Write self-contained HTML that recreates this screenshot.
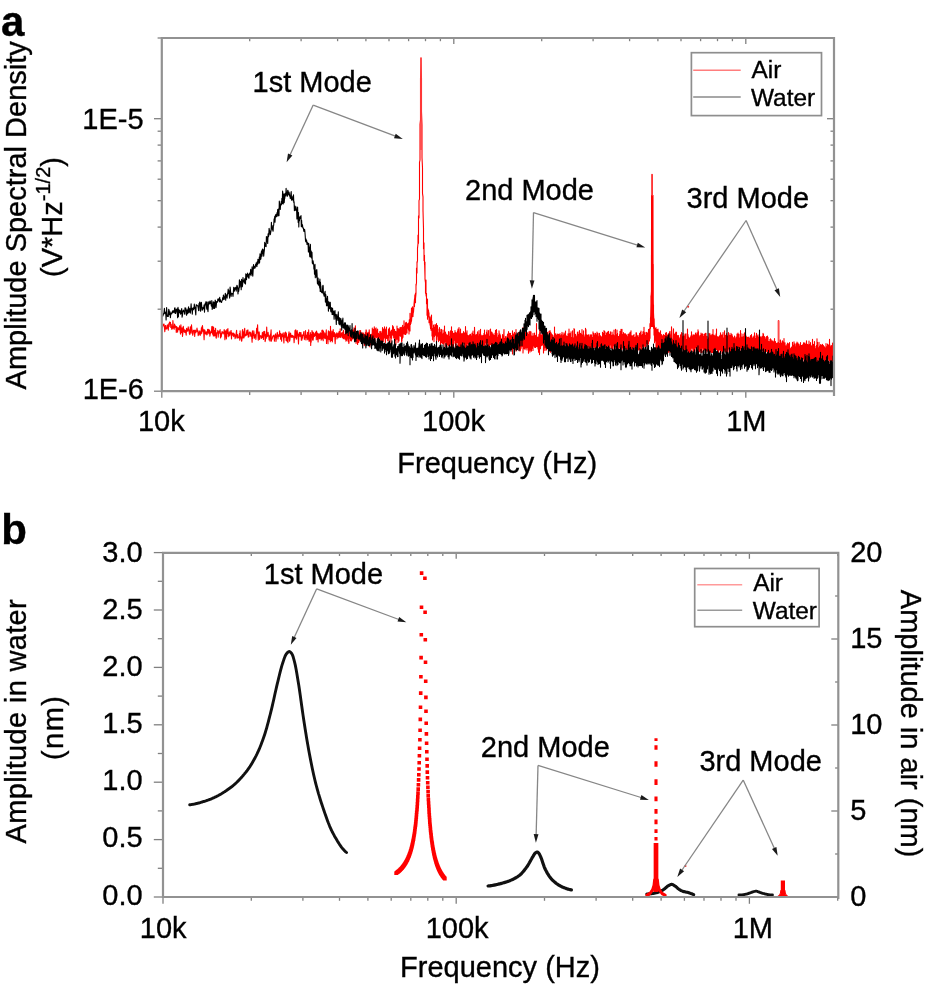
<!DOCTYPE html>
<html lang="en"><head><meta charset="utf-8"><title>Amplitude spectral density and amplitude in air and water</title>
<style>html,body{margin:0;padding:0;background:#fff}svg{display:block;will-change:transform}text{font-family:"Liberation Sans", sans-serif;fill:#000;stroke:#000;stroke-width:.35px}</style>
</head><body>
<svg width="926" height="992" viewBox="0 0 926 992">
<rect width="926" height="992" fill="#fff"/>
<clipPath id="ca"><rect x="161.8" y="38" width="672.2" height="353.2"/></clipPath>
<g clip-path="url(#ca)" fill="none" stroke-linejoin="round" stroke-width="1.1">
<path d="M161.8 326.9L162.2 327.9L162.7 326.1L163.1 324.2L163.5 325.7L164 324L164.4 327.5L164.8 331.7L165.3 325.9L165.7 325.5L166.1 329.1L166.6 328.8L167 328L167.4 324.8L167.8 327.7L168.3 330.1L168.7 323.7L169.1 326.6L169.5 322L170 324L170.4 322.3L170.8 327.5L171.2 324.3L171.7 329.3L172.1 329L172.5 328L172.9 320.5L173.4 327L173.8 328.6L174.2 329.2L174.6 324L175 327.4L175.5 325.9L175.9 326.5L176.3 332.5L176.7 326.6L177.1 329.1L177.6 332.2L178 327.5L178.4 329.1L178.8 329.8L179.2 329.8L179.6 325.7L180 329.9L180.5 334.1L180.9 324.8L181.3 332.6L181.7 330.3L182.1 327.9L182.5 336.5L182.9 332.5L183.3 326.2L183.8 330.4L184.2 332.1L184.6 329.7L185 332.5L185.4 330.2L185.8 332.6L186.2 335.1L186.6 328.4L187 331.2L187.4 329.1L187.8 331.1L188.2 326.9L188.6 328.9L189 330.2L189.4 333.8L189.8 334.6L190.3 326.7L190.7 328.5L191.1 333.2L191.5 324.7L191.9 329.7L192.3 330.9L192.7 335.3L193.1 333.5L193.5 330.3L193.9 330.2L194.3 330.6L194.7 336.4L195.1 330.1L195.5 330.6L195.8 332.8L196.2 331.3L196.6 331L197 328.1L197.4 331.7L197.8 330.4L198.2 335.6L198.6 334L199 331.8L199.4 334.1L199.8 330.9L200.2 335.5L200.6 332.1L201 334L201.4 327.9L201.8 333.3L202.1 326.7L202.5 325.6L202.9 331.3L203.3 329.4L203.7 332.9L204.1 339.7L204.5 329.7L204.9 330.4L205.3 333.2L205.6 334.1L206 332L206.4 331.9L206.8 334.9L207.2 334.4L207.6 329.3L208 332.5L208.3 332.9L208.7 329.4L209.1 333.7L209.5 330.1L209.9 336.1L210.3 333.6L210.6 333.3L211 331.1L211.4 332.7L211.8 326.5L212.2 329.4L212.6 334.3L212.9 326.2L213.3 336L213.7 327.5L214.1 335.7L214.5 330.5L214.8 335.9L215.2 333.8L215.6 328.4L216 337.5L216.3 338.2L216.7 333.3L217.1 332.6L217.5 333L217.8 330.4L218.2 337.2L218.6 331.9L219 333.5L219.3 331.1L219.7 331.7L220.1 329.6L220.5 337.9L220.8 333.3L221.2 337L221.6 333.9L222 331.6L222.3 332.8L222.7 332.1L223.1 334L223.4 332.8L223.8 333L224.2 329.5L224.5 331.4L224.9 339.6L225.3 331.9L225.7 330.7L226 335.3L226.4 338.9L226.8 329.5L227.1 333.6L227.5 332.2L227.9 328.5L228.2 336.8L228.6 334.3L229 334.6L229.3 331.9L229.7 335.9L230.1 332.7L230.4 334L230.8 330.9L231.1 330.5L231.5 339L231.9 332.9L232.2 335.6L232.6 334.5L233 333.2L233.3 333L233.7 336.8L234 333.7L234.4 334.2L234.8 334.8L235.1 338.7L235.5 337.1L235.8 336.1L236.2 333L236.6 330.3L236.9 338L237.3 338.1L237.6 334.5L238 336.7L238.4 337.5L238.7 337.7L239.1 338L239.4 333.5L239.8 340.1L240.1 330.9L240.5 337.9L240.9 336.7L241.2 338L241.6 341.3L241.9 340.1L242.3 331.4L242.6 329.6L243 337.9L243.3 331.8L243.7 335.2L244 338L244.4 329.8L244.7 328.3L245.1 336.1L245.5 335.4L245.8 334.5L246.2 335.4L246.5 332.5L246.9 330.3L247.2 334.8L247.6 332.1L247.9 329.9L248.3 337.1L248.6 335.2L249 336.8L249.3 332.1L249.7 333.2L250 332.1L250.3 332.5L250.7 336.1L251 332.9L251.4 336.7L251.7 336.6L252.1 342.3L252.4 330.9L252.8 338.5L253.1 335.2L253.5 335.5L253.8 330.7L254.2 334L254.5 338.1L254.8 335.3L255.2 335.9L255.5 334.6L255.9 339.5L256.2 335.6L256.6 328.3L256.9 333.3L257.3 329.1L257.6 324.8L257.9 333.9L258.3 340.1L258.6 335.8L259 331.8L259.3 332.6L259.6 339.5L260 336.2L260.3 335.9L260.7 335.6L261 335.9L261.3 338.4L261.7 337.6L262 336.5L262.4 332.3L262.7 337.5L263 333.5L263.4 339.5L263.7 331.6L264 335.4L264.4 335.8L264.7 331.4L265.1 341.6L265.4 340.7L265.7 334.3L266.1 338.4L266.4 337.1L266.7 327.1L267.1 336.7L267.4 335.7L267.7 336.2L268.1 332.3L268.4 335L268.7 335.3L269.1 339.9L269.4 337.1L269.7 335.9L270.1 341.1L270.4 334.1L270.7 334.6L271.1 329.9L271.4 341.2L271.7 339.2L272.1 339.1L272.4 338.2L272.7 336.4L273.1 336.7L273.4 335.2L273.7 335.3L274.1 336.2L274.4 341.1L274.7 337.9L275 335.8L275.4 334.1L275.7 333.9L276 341.4L276.4 337.8L276.7 336.3L277 334.9L277.3 332.3L277.7 335.9L278 339L278.3 334.8L278.7 335.3L279 335.4L279.3 336.5L279.6 330.7L280 335.3L280.3 333.2L280.6 339.1L280.9 333.5L281.3 338.1L281.6 341.3L281.9 335.1L282.2 334.1L282.6 336.8L282.9 336.2L283.2 332.8L283.5 337.7L283.9 343L284.2 335.3L284.5 335.5L284.8 332.7L285.1 337.3L285.5 332L285.8 332.5L286.1 340.5L286.4 333.2L286.8 339.9L287.1 341.4L287.4 337.1L287.7 338.1L288 342.8L288.4 335.6L288.7 334.2L289 331.7L289.3 336.4L289.6 341.3L290 339.5L290.3 333.1L290.6 333.4L290.9 334.6L291.2 337.3L291.6 335.6L291.9 337L292.2 337.3L292.5 335.3L292.8 336.2L293.1 337L293.5 336L293.8 338L294.1 342.7L294.4 338.3L294.7 336.5L295 330.6L295.4 337.6L295.7 329.7L296 331.6L296.3 339.2L296.6 338.7L296.9 335.8L297.2 330.5L297.6 335.1L297.9 334.1L298.2 338.5L298.5 344L298.8 337.1L299.1 333.7L299.4 332.4L299.8 336.2L300.1 335.8L300.4 332.5L300.7 336.8L301 332.5L301.3 340.2L301.6 340L301.9 340.1L302.2 334.8L302.5 338.2L302.8 336L303.1 335.1L303.4 335.3L303.7 332L304 331.5L304.3 339.2L304.6 335.8L304.9 337.2L305.2 339.9L305.5 330.5L305.8 333.7L306.1 337.1L306.4 337.8L306.7 335.2L307 340L307.3 337.2L307.6 332.3L307.8 333.2L308.1 339.3L308.4 338.1L308.7 329.9L309 341.2L309.3 338.6L309.5 341.2L309.8 335.2L310.1 335.5L310.4 332.6L310.7 345.4L310.9 335.9L311.2 342.1L311.5 334.2L311.8 337.1L312 330.6L312.3 335.2L312.6 340L312.9 332.1L313.1 340.3L313.4 337.7L313.7 332.9L313.9 334.8L314.2 334.9L314.5 336.4L314.7 334.7L315 333.6L315.3 335.5L315.5 332.9L315.8 332L316.1 336.4L316.3 339.7L316.6 331.1L316.8 336.6L317.1 334.3L317.4 333.1L317.6 339.6L317.9 334.7L318.1 342L318.4 333.8L318.7 338L318.9 335.8L319.2 333.9L319.4 338.7L319.7 336.1L319.9 338.8L320.2 336.4L320.4 332.7L320.7 336.2L320.9 336.8L321.2 340.1L321.4 333.3L321.7 336.5L321.9 330.4L322.2 339L322.4 332.7L322.7 330.1L322.9 336.4L323.2 340.7L323.4 331.1L323.7 332.7L323.9 333.9L324.1 332.5L324.4 338L324.6 333.7L324.9 334L325.1 338.8L325.4 333.9L325.6 338.2L325.8 333.1L326.1 332.2L326.3 329.9L326.5 343.5L326.8 335.5L327 337.6L327.3 336.6L327.5 337.3L327.7 336.9L328 343.7L328.2 332.8L328.4 330.9L328.7 332.9L328.9 331.8L329.1 339.4L329.4 339.7L329.6 333.1L329.8 331.5L330.1 335.4L330.3 341.8L330.5 326.2L330.7 338.6L331 332.7L331.2 340.5L331.4 332.7L331.7 335.6L331.9 331.1L332.1 333.1L332.3 341.9L332.6 339.7L332.8 335.2L333 333.4L333.2 329.6L333.5 335.2L333.7 336.6L333.9 336.4L334.1 336.3L334.4 332.5L334.6 336.5L334.8 336.6L335 341.5L335.2 343.7L335.5 336.2L335.7 333.8L335.9 336.5L336.1 334.4L336.3 333.9L336.6 336.5L336.8 332.8L337 339L337.2 336.3L337.4 337.6L337.6 336L337.9 334L338.1 333.1L338.3 335.8L338.5 334.6L338.7 337.6L338.9 336.7L339.1 331.5L339.4 337L339.6 331.6L339.8 334.4L340 335.6L340.2 328.8L340.4 337.1L340.6 337.3L340.8 336.1L341.1 335.1L341.3 335.3L341.5 333L341.7 335.7L341.9 334.6L342.1 337.1L342.3 332.1L342.5 337.6L342.7 337.3L342.9 336.2L343.1 335L343.3 338.8L343.6 330.3L343.8 338.5L344 337.6L344.2 337.8L344.4 338.2L344.6 334.2L344.8 335.7L345 339.2L345.2 338.4L345.4 337.5L345.6 330.9L345.8 338.8L346 341.2L346.2 340.6L346.4 337.6L346.6 330.7L346.8 340.3L347 336.1L347.2 326.9L347.4 338.2L347.6 330.9L347.8 331.7L348 334.2L348.2 341.6L348.4 335.3L348.6 337.7L348.8 343.5L349 342.9L349.2 336.3L349.4 335.8L349.6 331.8L349.8 334L350 338.3L350.2 338.2L350.4 337.1L350.6 340.6L350.8 333.7L351 336.5L351.2 339.5L351.4 339L351.5 340.9L351.7 338.2L351.9 335.5L352.1 338.1L352.3 332.7L352.5 330.2L352.7 339L352.9 336.5L353.1 337.9L353.3 330L353.5 335.2L353.7 334.3L353.9 333.3L354 327.8L354.2 335.3L354.4 340.2L354.6 338.2L354.8 334.3L355 336.6L355.2 339.6L355.4 325.7L355.6 336.2L355.8 338.8L355.9 339.3L356.1 343.4L356.3 341.1L356.5 337.9L356.7 337.8L356.9 339.8L357.1 334.5L357.2 336.5L357.4 340.2L357.6 344.4L357.8 336L358 336.4L358.2 337.4L358.4 342L358.5 336.5L358.7 342.5L358.9 332.8L359.1 335.9L359.3 335.8L359.5 339.8L359.6 340.8L359.8 330.6L360 332.9L360.2 337.9L360.4 334L360.6 330.5L360.7 340.8L360.9 338.6L361.1 338.6L361.3 334.7L361.5 340.7L361.6 335.6L361.8 341L362 332.9L362.2 333.1L362.4 337.4L362.5 333.7L362.7 339.3L362.9 337.6L363.1 332.8L363.3 336.8L363.4 335.1L363.6 340.2L363.8 334L364 334.8L364.2 341.4L364.3 345.6L364.5 344.6L364.7 336.8L364.9 337.4L365 342.7L365.2 336L365.4 332.6L365.6 337L365.7 338.3L365.9 333.1L366.1 329.8L366.3 330.7L366.4 339.2L366.6 333.4L366.8 335.9L367 337.4L367.1 339L367.3 335.1L367.5 338.5L367.7 332.8L367.8 335L368 332.3L368.2 341.1L368.4 336.3L368.5 333.4L368.7 335L368.9 335.5L369 339.3L369.2 329.9L369.4 332.2L369.6 334.9L369.7 346.8L369.9 340.3L370.1 336L370.2 339.3L370.4 344.8L370.6 335.4L370.8 334.9L370.9 341.4L371.1 338.4L371.3 339.1L371.4 334.3L371.6 344.3L371.8 343.4L371.9 338.7L372.1 339.2L372.3 328L372.4 339L372.6 335.5L372.8 338.1L372.9 339.1L373.1 334.9L373.3 329.3L373.4 337.8L373.6 333.2L373.8 334.9L373.9 333.8L374.1 334.9L374.3 326.7L374.4 341.3L374.6 337.3L374.8 340.9L374.9 344.5L375.1 336.3L375.3 328.8L375.4 332.5L375.6 331.2L375.8 334.1L375.9 336.5L376.1 327.9L376.3 337.6L376.4 329.9L376.6 337.4L377 335.7V335.9V333.9L377.4 333.6L377.6 329.1L377.7 336L377.9 343.8L378.1 344.4L378.2 341.6L378.4 339.1L378.5 333.3L378.7 342.1L378.9 335.8L379 335.8L379.2 334.8L379.3 336.4L379.5 334.2L379.7 335.7L379.8 331.5L380 334.4L380.2 345.6L380.3 335.7L380.5 335L380.6 338.2L380.8 338.9L380.9 331.3L381.1 335.1L381.5 339.8V336.4V342.5L381.9 333L382.1 336.2L382.2 333.7L382.4 342.2L382.5 327.6L382.7 333L382.9 333.6L383 338.6L383.2 338.4L383.3 341.7L383.5 329.1L383.6 338.9L383.8 334.5L384 332.9L384.1 338L384.5 331.8V326.9V334.1V329.3L384.9 332.9L385 337.2L385.2 337L385.4 342.4L385.5 334.8L385.7 329.1L385.8 332.4L386 331.7L386.1 330.4L386.5 337.4V327.1V338.5L386.9 335L387.1 337L387.2 335.9L387.4 338.1L387.5 335.6L387.7 340.7L387.8 337.2L388 337L388.1 337.1L388.5 329.1V336.2L388.9 329.4L389 342.2L389.2 335.7L389.3 330L389.5 327.8L389.6 333.9L389.8 334.7L389.9 332L390.1 335.5L390.5 332.3V337.4V331.9V334.8L390.9 339.2L391 346L391.2 330.6L391.3 332.9L391.5 331.3L391.6 338.3L392 329.9V334.7V330.5L392.4 330.6L392.5 332.7L392.6 325.6L393 328.4V335.2V333.8L393.4 326.9L393.5 332.5L393.7 338L393.8 336.9L394 334.1L394.1 330.5L394.5 337.1V329.2V330.8L394.9 340.5L395 335.2L395.2 339.2L395.5 332V338.2V331.4V333.3L395.9 344.8L396 337.3L396.2 331.7L396.3 333.5L396.5 335.3L396.6 339.1L397 331.6V326.1V333.7L397.4 334.1L397.5 339.3L397.6 334.9L398 337V328.6V342.5L398.4 336.6L398.5 334.3L398.7 333.8L399 340.9V329V335L399.4 336.1L399.5 330.9L399.7 334.1L400 331.5V333.2V327.5L400.4 332.4L400.5 336.3L400.7 328.1L401 331.2V335.1V327.4V332.9L401.4 327.3L401.5 336.9L401.6 342L402 340.7V330.7V332L402.4 331.9L402.5 338.2L402.6 325.4L403 335.8V330.9V337.2V331.7L403.3 327.8L403.5 331.9L403.6 333.9L404 330.7V332.6V320.7L404.5 334.1V330L404.9 334.2L405 327.5L405.1 326.2L405.5 328.4V334.4V322.8V334.1L406 325.9V323.7V334V327.8L406.4 322.3L406.5 326.3L406.6 331.9L407 332.9V325.5V330.3L407.5 324V328.3V323.9L407.9 323.9L408 326.2L408.1 325.8L408.5 323V330V325.7L409 328.5V326.6V333.9L409.3 319.8L409.5 326.8L409.6 321.5L410 330.9V313.3V317.3L410.5 324.3V324.5V319.9L411 321.9V318.7V323.3L411.5 308.1V321.2L411.9 315.4L412 311.9L412.1 317L412.5 310.7V306.7V313L413 314.7V316.4V310.5V315.2L413.5 309.8V308.6V312.2L414 305.1V304.1V304.3L414.5 298.9V306.5V301.9L414.9 294.9L415 299.1L415.1 298L415.5 293V302.7V298.7L416 293.5V284.2V286.1L416.5 282.6V268.1L417 273V261.7V263.4L417.5 260.7V248.4L418 243.6V235V235.9L418.5 243.3V215.7L419 217.9V200.7L419.5 199.1V162.3L420 160V124.3L420.5 119.9V78.3L421 63.5V57.7V61.4L421.5 78.6V111.5L422 125V157.8L422.5 167.7V193.3L423 196.9V211.4V210.2L423.5 229.1V227.8V248.4L424 249.4V242.8V260.6L424.5 255.3V264.4V260.5L425 277.2V262.1V279.1L425.5 283V293.2L426 280V295.2L426.5 297.1V293.3V303.7L427 303V299.4V315.3L427.5 299.1V319.2V312.3L428 310.6V308.8V311.1V310.3L428.5 317V310.1L429 316V312.7V322.8L429.5 320.2V321.4V320.3L430 320V324.9V316.9L430.5 328.5V319.7V320.8L431 325V321.3V330.2V321.6L431.5 315.1V326.3L432 331.6V321.1V336L432.5 329.5V328.3V340L433 334.9V329.8V332.4L433.5 326.9V325.1V330.4V330.2L434 331.1V341.6V327.1V330.6L434.5 330.6V336.4V329.5L435 328.1V324.5V334.8V332.6L435.5 327.9V335.3L436 330.3V332V324.9V328L436.5 341V323.5V332.1L437 330.2V334.1V333.9L437.5 325.6V335.7L438 337.7V332.6V339.3L438.5 340.5V341.6V334.5L439 339.2V329.1V333.1L439.5 333.9V327.6V340L440 340.5V332.2L440.5 338V335V344.4V336.2L441 329.4V332.4V331L441.5 342.7V329.6V342.6L442 335.1V333.7V338.2L442.5 339.9V343.5L443 340.2V330V338.7L443.5 335.5V333V344.2L444 340.5V338.5V342.5L444.5 339.1V326.1V333.1L445 338.6V332.5V347.3L445.5 335.7V332.1V339.9L446 334.6V341.7V333.7V338.9L446.5 341.7V335.1V351.4L447 334.8V344.7V337.6L447.5 341.6V344.2V335.5L448 335.8V345V340.4L448.5 343.4V345.6V331.5L449 333V331.8V346V344.4L449.5 341.3V346.7V337.7L450 339.1V336.2V346.3L450.5 330.7V340V339.7L451 342.8V331.3V344.1L451.5 336V341.8V326.7V335.3L452 340V346.3V332.3L452.5 345.8V347.5V331.4L453 343.2V351.8V342.5V345.1L453.5 341.7V345.4V333.3V338.1L454 340.5V343.3V335.6L454.5 333.1V339.5V333V333.2L455 336.9V330.5V340.1L455.5 341.2V348.8V332.2V343.7L456 338.3V347.5V333.9L456.5 333.1V341V332.9L457 334.7V342.4L457.5 342.2V331V336.7L458 329.3V347V329.1L458.5 352V334.2V344.2L459 340.3V342.6V327.5L459.5 353.1V335.3V346.6L460 347.2V333.9V338.8L460.5 329.1V340.1V338.9L461 339.2V348.9V345.5L461.5 336V344.1V333.8V338.4L462 333.4V347.6V340.8L462.5 335.5V333.9V351.1L463 342.1V336.4V343.7L463.5 341.2V342.7V331.6L464 337.7V333V340.4L464.5 342V333.1V343.5L465 348.1V332.6L465.5 347.1V326.6V352.7V347.5L466 335V340.8V332.8L466.5 336.7V345.7V340.4L467 351.3V330.8V346.4L467.5 335.5V342.6V335V338.3L468 337.5V343.7V337.2L468.5 335.7V352.9L469 344.1V335.7L469.5 335.2V343.7V339.1L470 334.2V348.8V344L470.5 347.3V353.2V334.2L471 345.8V348.4V342.2V346.3L471.5 336.9V342.2V335.8V339.4L472 340.9V333.1V350V345.9L472.5 343.8V338.4V342.2L473 331.8V354.7V331V342L473.5 339.7V334.3V347.5L474 339.2V338V348L474.5 335.7V344.6V327.3L475 340.2V348V334.7L475.5 335V348V341.9L476 335.9V346.4V340.5L476.5 339.7V350V334.6L477 337.9V344V337V340.4L477.5 331.9V344.3V342.2L478 346.5V351V338.6L478.5 344V336V339.5L479 330.5V339.5V332.1L479.5 338.6V343.6V334.3L480 339.3V347V336.9V345.8L480.5 338.5V345.7V329.3V336.2L481 335.3V334.9V341.9L481.5 335.9V348.6L482 342V335.8V344.8L482.5 336.3V346V341.4L483 335.3V351.1V337.9L483.5 337.7V350.5L484 341.5V347.5V333.4V339.9L484.5 340.1V330V344.8V338.6L485 338.3V342.5V334.3V335.9L485.5 341.9V336.4V340.2L486 346.3V335.3V347.9V338.3L486.5 344.3V332.1V338.9L487 338V330.1V342.9V337.3L487.5 338.5V333.8V340.5L488 343.4V335.7V342.7L488.5 330.6V346.6V345.6L489 342.2V346.6V340.1L489.5 347.6V336.1V339.2L490 344.4V329.8L490.5 340.1V329V343.9L491 337.4V344.8V331.6V344.5L491.5 336.1V351.5V337.2L492 339.3V349V332.2L492.5 346.3V336.4V339.8L493 333.9V333.7V351.7V341L493.5 337.5V349.4V334.7V342.4L494 347.3V336.9V341.3L494.5 335.3V346.2L495 344.1V333V345.7L495.5 338V330.2V345.6L496 337.1V339.2V333.9V338.9L496.5 342.5V329.5V344.3V344L497 340.3V333.2V349.6V341.7L497.5 347.5V337L498 338.9V351.6V342.5L498.5 336.7V335V346.6V337.9L499 337.7V343.5V330.8L499.5 338.6V334.8V343.6L500 339.8V334.1V342.5V336L500.5 341V348.3V335.5L501 345.7V340.8V346.5V344.8L501.5 344.2V341.8V345.5L502 338.3V349.2V339.6L502.5 350.6V334.6V351.2L503 341.8V335.9V349.5L503.5 337.4V343.7V335.8V339.5L504 329.5V347.9L504.5 342.1V347.6V338.3V339.6L505 340.5V346.2V340L505.5 339.4V342.4V336.5V338.1L506 340.2V337.8V351.4L506.5 342.4V340.4V347.6V340.7L507 351V336V339.2L507.5 340.5V346.9V334.1L508 341.5V337.2L508.5 343.4V348.1V331.5V336.2L509 340.1V335.8V344.2V342.6L509.5 339.6V333.3V345.6L510 346.7V335.6V348.3V337.3L510.5 335.1V333.2V341V335L511 345.3V337.6V339.2L511.5 341.1V349.3V335.5V340.9L512 344.3V349.7V338.3V340.4L512.5 334.7V353.9V330.8V337.6L513 341.4V334.8V342.5V340.1L513.5 336.6V344.7V334.2V337.1L514 344V333.1V344.3V335.5L514.5 347.2V332.4V345.6L515 349.1V338V340.9L515.5 342.9V333.5V347.3V342.6L516 337.8V329.5V351.1L516.5 341.6V335.9V342.8V338.2L517 338.7V348.9V343.2L517.5 347.9V349.8V334.3L518 339.3V347.9V337.4L518.5 335.2V332.6V341.5V337.8L519 336.1V334.3V349.9V339.2L519.5 335.4V349.3V346L520 342.6V334.9V351V337.4L520.5 330.3V350.2V340.9L521 343.8V348.6V339.5V341.3L521.5 341.1V346.8V334.3V345.5L522 340.5V337.3V345.7L522.5 338.3V333.4V346.5L523 344.3V327.5V352.9L523.5 338.5V347.2V336.2L524 348.5V336.5L524.5 337.6V346.5V334.8V343.9L525 343.7V343.2V349.6L525.5 331.9V347.1V332L526 339.2V333.9V347.9V339.8L526.5 337.6V341V334.2L527 339.7V349.9V333.2L527.5 334.2V332.9V344.5V338L528 341.4V347.7V336.1L528.5 335.6V334.3V353.3V345.6L529 342.2V350.3V331.9L529.5 342.8V338.3V345.2V343L530 344.3V331.3V351.9V345.9L530.5 334.3V345.7V340.4L531 331.9V350.1V335.3L531.5 336V351.1V339L532 346.1V336.7V348V344.6L532.5 348.5V336V340L533 336.3V333.4V350.4V346.7L533.5 338.6V342.4V335.9V339.5L534 336V345.9V341.7L534.5 340.2V347.2V333L535 339.2V338.6V344.8V341.9L535.5 335.5V347.4V346.4L536 340V337.2V342V341.2L536.5 338.4V323.6V346.5V342.4L537 339.2V336.7V346.7L537.5 341V345.6V339.9V345L538 342.2V337.4V349V348.1L538.5 346.3V339.2V352.3V340.3L539 334.4V343V334.2V339.5L539.5 334.2V354.6V336.9L540 324.7V345.7V342.1L540.5 344.2V334.5V348.8V347.3L541 344.7V335.4V343.6L541.5 339.2V345.2V339V339.8L542 342.5V334V345.4V343.1L542.5 333.2V344.6V340L543 342.9V337.5V343.9V341.3L543.5 338.9V336V352.9L544 339.7V328.9V347.7L544.5 339.9V341.9V334.7L545 340.1V350.5V349L545.5 346.3V337.4L546 331.1V345.2L546.5 341.6V350V335.4V343.1L547 345.6V334.3L547.5 336.2V343.9V332.2V341.3L548 338.4V345.6V338.9L548.5 346.5V341.3V342.9L549 345.3V331.3V347.5V341.7L549.5 335.6V351.1V333.7V339.3L550 350.2V330.5V331L550.5 343.2V332.1V352.3V340.3L551 346.4V332.7V350.8V339.5L551.5 338.3V342.8V333.8V341.5L552 346.5V336V346.2L552.5 343.3V334.8V344.5V340.6L553 337.3V346.7V341.8L553.5 337.6V348.8V341L554 343V352.6V335.5V347.3L554.5 339.2V327V349.2L555 341V346.2V334.9V342.9L555.5 340.3V333.8V349.5L556 334V345L556.5 338.1V335.7V346.4V341.7L557 345.1V335.3V339.2L557.5 343.1V346.3V334.1L558 342.3V351.2V337.1V337.2L558.5 334.2V353.5V346.9L559 336.4V334.6V348.1V338L559.5 348.4V335.7L560 343.6V351.5V333.6L560.5 343.6V335.6V356V344.9L561 344.6V336.1V340.2L561.5 336.5V334.5V346.1V339.6L562 344.4V352V332.4L562.5 337.5V345.7V336.3V338.9L563 337.2V350.6V336.1L563.5 344.1V334.9V346.8V337.5L564 341.8V332.8V348.8V333.3L564.5 334.8V348.6V338.5L565 347.6V333.9V340.2L565.5 342.9V343.8V331.1V336.7L566 338.2V335.4V343.6L566.5 340.2V336.4V350.1V348.3L567 337.4V350.7V340.4L567.5 347.3V336.2V346.3L568 343.5V349.5V333.8V346.5L568.5 339V337.5V346.1L569 338.2V348.6V329.1V340.6L569.5 344.1V336.7V353.8L570 345.1V333.5V345.4L570.5 339.3V335V346.6V338.3L571 346.2V331.8V347.8V344.8L571.5 339.3V338.2V345.8V343.9L572 342.8V337.4V349.3V340.8L572.5 343.8V330.7V347V336.7L573 340.4V349.6V338.5V344.6L573.5 342V343.1V337.8L574 344.8V328.6V353.4L574.5 329.2V348.6V345.1L575 336V335V346.7L575.5 342.9V334.2V345.8V338L576 345.9V335.9V345.7L576.5 351.2V337.4L577 338.1V347.7V339.1L577.5 332.1V345.3V333.4L578 340.9V334.4V350.8V344.1L578.5 342V346.4V335.2V343.5L579 335.5V349.8V332.7L579.5 330.6V344.1V339.9L580 337.4V334.5V350.7L580.5 336.4V333.4V346V336L581 338.5V345.7V334.8L581.5 334V347.8L582 329.5V352V341.7L582.5 340.4V344.4V338.2L583 340.7V348.6V334.9V343.7L583.5 341.2V350.8V330.9V343.4L584 336.4V334.9V351.4V344.3L584.5 346.8V347.6V336.7V338.4L585 342.9V336.9V351L585.5 341V356.2V328.2V350.3L586 334.9V350.2V329.5V341.8L586.5 336V346.5V335L587 334.9V347.6V338.1L587.5 351.4V335.3V341.6L588 339.9V336.2V352.9V340.2L588.5 334.9V346V341.5L589 340.2V345.6V334.8V344.9L589.5 343.4V348.7V338.5V342L590 336.8V350.5V338.1L590.5 343.3V349.1V334.8V341L591 337.4V349.1V344.4L591.5 345.7V353.5V334.7V346.9L592 341.7V353V337.3V343.6L592.5 341.3V349.5L593 343.8V331.9V341.5L593.5 344.4V347.3V335.7V346L594 346.8V333.2V340.7L594.5 343.5V334.7V347V339.9L595 348.4V334.7V341.2L595.5 341.1V348.1V333.4L596 338.6V348.6V335.1V341.1L596.5 346.2V334.9V347.6V342.7L597 336.6V348.1V332.1V337.9L597.5 336.3V348.7V340.4L598 338.2V349.4V333.2V339.9L598.5 346.1V339.3V342.2L599 341.2V336.5V343.9L599.5 333.3V351.6V336.5L600 341V336.5V352.5V341.8L600.5 335.9V346.7V336.4L601 340.8V337.6V351.4V343.3L601.5 340.4V347.3V336.8V338.2L602 343.9V346.5V337.2V341.8L602.5 345.8V332.2V349L603 335.5V333.2V345.8V341.5L603.5 339.7V350.2V336.4L604 337.3V350.5V330.6V338.5L604.5 343.5V349V331.3V340.6L605 346.7V331.7V349.7L605.5 339.8V335.2V343V337.8L606 340.2V347.5V343.9L606.5 349.8V333.1V343.1L607 345.1V335.6V346.3V338.8L607.5 332V345.7V339.7L608 344.3V337V349.4V339.9L608.5 339.9V331.2V344.3V337.1L609 345.1V334.6V350.5V341.4L609.5 343.4V347.3V334.2V344.4L610 344.8V336.2V336.8L610.5 331.9V344.9V342.2L611 337.1V335.8V348.3V341L611.5 340.2V335.2V348.2V342.2L612 344.7V346.2V332L612.5 340.6V352.6V336.4V339.9L613 356.1V335.1V344.1L613.5 340.2V334.8V342.2L614 336.5V345.8V330.1V338.8L614.5 342.3V350.5V335.6V340.5L615 343.2V335.9V346.8L615.5 345.8V329.3V335.3L616 339.2V337.5V351.2V337.6L616.5 346.2V349.4V334.5V345.9L617 351.3V330.1V342.5L617.5 341.6V353.5V333.2V344.4L618 336.3V346.1V337.9L618.5 336.6V349.7V337.5L619 338.6V352.3V341.5L619.5 337V346.8V334.5V339.7L620 347.1V331.2V338.1L620.5 337.2V352.2V332.7V333.9L621 344.3V347V329.3V343.2L621.5 342.8V335.5V349.7V343.8L622 342.8V347.7V329.3V340.4L622.5 340.7V344.8V334.2V344.7L623 338.6V335.9V349.5V343.8L623.5 348.2V332.5V348.8V334.6L624 346.8V349.7V333.4V341.5L624.5 336.2V346.5V339.5L625 341.2V351.5V334V351.4L625.5 347.3V333.8L626 337.2V334.3V347.9L626.5 343.6V335.4V348.3L627 345.4V349.4V337.5L627.5 344.1V350.2V336.6L628 349.3V334.4V353.6L628.5 340.9V336V346.4V339.6L629 347.8V333.7V348.7L629.5 347.9V335.3V338L630 333.8V332.4V352V340.2L630.5 342V338.2V348.5L631 345.2V330.8V346.1V337.1L631.5 339.8V349.3V335.6L632 338.3V338V352.6L632.5 336.4V335.9V348.3V342.2L633 346.7V337.2V347.7V337.3L633.5 341.2V335.3V344.4V342.1L634 338.1V334.5V346L634.5 347.8V337.3V344.8L635 342.9V337.3V352.3L635.5 338.5V336.7V350.1V346.3L636 341.2V332.8V352.5V348L636.5 340.5V348.1V332.7V338.8L637 335.5V335V351.1V341.8L637.5 336.6V353.5V335.8V340.2L638 338.9V349.8V337.1V343.5L638.5 345.1V349V337.9V346L639 343.6V335.3V350.1V343.4L639.5 348.2V349.3V333.4V342L640 338.6V347.1V335.4V343.2L640.5 345.7V346.9V332.4V345L641 339.6V351.3V331.1V341.7L641.5 345.6V335.1V349.7L642 344.8V352.5V337V339.2L642.5 334.4V346.3V340L643 334.5V331.8V346.2V344L643.5 341.3V331.6V347.5V340.7L644 338.6V346.4V327.3V344.5L644.5 332.6V345.1V335.1L645 335.9V345V335.2V342.2L645.5 349.1V335.8V340L646 340.9V346.4V332.4L646.5 340.2V343.3V335L647 340.4V332.3V343.5V343L647.5 339.2V344.2V333.3V338.4L648 343.8V346.1V333.7L648.5 340.5V343.7V329.6V332.6L649 329.7V329.2V341.5L649.5 328.9V340.5V337.7L650 333.5V338.3V323.6L650.5 328.2V317.6V321.1L651 315.2V321V295.7V298.9L651.5 291.4V294.3V255.6L652 239.5V240.1V174.3V199.6L652.5 196.3V266.8L653 271V264.4V304.7V298.7L653.5 314.6V304.9V328.2V323.2L654 321.5V335.1V318.8V333.6L654.5 325.8V342.7V328.3L655 337.3V328.3V337.9V332.9L655.5 337.4V340.9V328.9V337.7L656 336V327.6V347.1V333.7L656.5 342V331.3V349.1V347.7L657 337.2V329.6V350.3V339.3L657.5 330.2V348.1V337.7L658 338.4V329.1V345.1V343.9L658.5 337.3V349.2V332.1V338.4L659 339.7V333.7V351.6V343.5L659.5 332.9V349.1V335.8L660 344V350V334V339.5L660.5 345V330.8V347.6V332.5L661 346.9V347.2V339.5L661.5 344.9V350.2V334.6V344.3L662 336.5V345.3V335.8V345.2L662.5 339.9V335.9V348.8V340.2L663 345.4V337.2V360.4V346.8L663.5 334.6V348.9V344L664 344.9V335.5V348.7V340.6L664.5 348.3V335.4V352.8V341.5L665 340.6V346.9V336.1V337.8L665.5 344.5V333.1V346.6V336.5L666 339.9V336V346V339.7L666.5 344.7V332.6V346.3V339.8L667 344.6V347.2V335.2V346.7L667.5 343.6V350.7V338.2L668 340.8V352.6V334.2V342.6L668.5 346.8V335.5V349.1V338.6L669 345.4V333.4V351.9V348.8L669.5 347.7V350.7V331.7V340.9L670 343.7V349.1V331.3L670.5 338.7V352.1V337.7V345.4L671 345V334.9V350.6L671.5 345.8V353.1V326.9L672 336.4V350.4V349.1L672.5 341.9V348.1V339.1V340.8L673 355.6V340V341.3L673.5 344.6V328.9V346.8V342.8L674 350.5V333.6V341.5L674.5 346.6V337.1V348.5V341.6L675 342.6V347.3V334.2V347.1L675.5 342V332.8V346.6V338.9L676 349.8V332.1V350.7L676.5 341.8V332.3V349.7V340L677 348.2V338.5V344.6L677.5 339.2V349.5V335.6V341.5L678 347.7V340.5V344.5L678.5 335.6V345.8V335.5V337.8L679 350.4V338.5V350.3L679.5 345.9V339V353V347.9L680 345.4V349.4V337.4V347.4L680.5 340.5V334.8V346.3V343.2L681 343.4V350.8V339.7V343.2L681.5 339V349.5V332.5V345.4L682 336.7V348.9V348.8L682.5 345.7V336.5V348.8V341.4L683 343.2V333.2V352.7L683.5 345.3V351.5V335.8V339.6L684 338.6V336.5V346.6V345.9L684.5 342V351.7V335.9L685 340.5V334V353V344.8L685.5 340.5V336.8V350.6V347.2L686 341.2V333.7V348V341.8L686.5 342.5V350V339.5V346.7L687 344.1V350.3V339.2V341.7L687.5 338.8V329.1V348.9L688 335.3V334.5V357.1V338.8L688.5 341.2V336.9V346.6V343L689 343.8V351.9V338.7V347.9L689.5 342V353.3V338V341.9L690 343.8V337.9V350.4V342.7L690.5 351V336.8V340.7L691 341.5V335.6V349.9V348.7L691.5 335.7V331.7V347.4V335.4L692 345.1V348.2V338.9V344L692.5 341.6V336V348.2V346.6L693 339.8V334.9V352.1V341.4L693.5 340.5V335.2V349.6V336.2L694 335.3V351.5V334.7L694.5 346.2V351V337.6V339.8L695 335V351.1V348.7L695.5 342.3V333V347.7V343.4L696 337.6V346.9V335.4V341.3L696.5 340.3V334.5V346.2V346.2L697 341V349.3V332.8V342.5L697.5 341.3V352.4V338.7V343L698 344V329.8V350.8V337.2L698.5 342.8V331.5V356.5V338.7L699 344V337.7V348V338.6L699.5 344.4V351.7V336.6V344.4L700 340.7V335.2V350.7V344.6L700.5 346.4V336.4V349.5V348.1L701 340.1V352.7V333V338.1L701.5 338.7V349.9V337.2V343.2L702 346.6V334V352.4V340.3L702.5 336.6V345.5V333.9V339.5L703 345.2V336.4V348.1V346.3L703.5 347.6V353.6V341.4V344.1L704 338.1V334.3V350.3V343.2L704.5 334V349.8V344.6L705 338.7V349.3V341.4L705.5 345.1V348.2V333.4V338.5L706 340.8V333.2V352.5V341.4L706.5 348.3V338.5V345.9L707 343.6V336.4V350.6V346.5L707.5 351.1V339.2V339.9L708 341.2V340.4V351.3V346.1L708.5 344.5V337.7V346.2V342.6L709 336V333.4V353.4V345.8L709.5 339.9V337.4V353.2V337.8L710 336.9V352.2V333.8V350.3L710.5 344.6V337.1V351.8V337.7L711 343.6V347.2V335.5L711.5 350.8V352.4V342.1V348.3L712 334.2V346.4V339.1L712.5 341.9V352.6V337.9V350.4L713 343.4V329.6V351.9V335.8L713.5 345.8V335.4V354.2V349L714 345.2V335V350.1V345.2L714.5 343.5V336.7V346.5V343.2L715 345.3V335.8V348.8V347.7L715.5 346.9V336.6V351.2V336.8L716 347.5V349.4V333.7V340.3L716.5 342.1V347.5V329V342L717 344.3V336.3V349.6V342.9L717.5 338.7V352.1V336.9L718 345.8V350.2V337.8V345L718.5 348V352.8V337V337.5L719 346.5V336.7V349.7V349L719.5 345V349.1V335.9V341.4L720 341.7V339.3V350.2L720.5 332.7V348.4V339.8L721 351.2V353.5V337.4L721.5 348.8V335.3V340.1L722 350.8V334.9V341.8L722.5 351.9V338.4V344.7L723 346.8V332.6V351V342.3L723.5 349.2V355V337.7V342.2L724 350.1V338.3V340.3L724.5 340.4V330.8V346.1L725 338.1V336.5V351.2V343.7L725.5 341.7V351.9V335.2V340.8L726 346.2V338.6V347.8L726.5 341V333.6V353.2V341.7L727 346V350V336.2V347.4L727.5 344.5V352.6V336.1L728 351.9V335.5L728.5 340.2V348.3V332.6V338.4L729 340.2V333.5V349V335.4L729.5 351V337.2V341.8L730 338.9V335.4V349.2L730.5 352.7V339.2V346.2L731 348.4V353V333.3V349.5L731.5 346.2V346.6V334.7V344L732 339.5V334.5V356.1V344.4L732.5 345V336.1V350V344.5L733 347.1V337.2V347.8L733.5 337.7V350.4V348L734 346.3V338.4V349L734.5 339.5V348.1V336V343.3L735 345.6V339.1V348.9V339.5L735.5 347.8V350.7V338.6V338.8L736 341.9V337.1V350.8V337.2L736.5 347.7V350.1V338.8V349L737 337.9V349.3V334.1V340.9L737.5 341V352.2V335.6V342.1L738 345.8V333.1V340.6L738.5 339.6V347.8V336.6V344.3L739 345.9V334.3V350.4V341.1L739.5 347.3V354.9V337.8V342.6L740 340.9V337.7V350.7L740.5 344V349V330.5V344L741 346.1V333.5V342.8L741.5 344.4V348.9V339.1V340.9L742 343.6V337V348.2V338L742.5 347.3V350.9V337.2V340.8L743 347V334V359.5V341.4L743.5 345.3V350.4V336.9V346.2L744 343.7V336.5V346V343.5L744.5 355V332.7V346.9L745 346.9V339.9V350.6V346.5L745.5 344.1V333.9V352.9V342.5L746 342V352.5V335.9V344.4L746.5 341.2V336.9V351.5V337.4L747 348.7V351.2V338.8V343.3L747.5 341.6V337.2V348.3V338.5L748 343.3V347.8V337.6V343.8L748.5 345V349.8V337.4V339.2L749 346.1V337.1V353.1V345L749.5 338.9V349.6V341L750 343.5V347.9V338.4L750.5 343.1V335.5V349.3V341.3L751 342V354V340.4V342.7L751.5 344.2V334.5V348.7V338.7L752 338.1V353.3V336.7V337.1L752.5 339.9V354.8V338.3V340.6L753 341.5V339.7V349.6V345.8L753.5 340.1V350V336.8V347.3L754 337.9V335.7V345.2V336.5L754.5 345.4V352.4V332.7V343.5L755 335.7V353.2L755.5 352.7V338.2V345.7L756 345.6V349.3V338.8V342.5L756.5 343.7V333.3V347.6V341.8L757 350V337.3V344.3L757.5 347V335.9V351.1L758 340.1V349V334.9V347.8L758.5 345.3V337V349.2V347.8L759 350.5V337.4V352.2V340.6L759.5 339.4V337.3V352.2V344.7L760 339.1V350.5V337.7V344.5L760.5 342.5V349.7V336.9V340.4L761 346V337.6V349.4V345.5L761.5 344.2V338.4V350.5V344.6L762 343.1V351.5V336.2L762.5 345.8V338.9V347V344.4L763 345.1V333.4V350.8V343.1L763.5 350V334.1V351.5V347.5L764 344.9V351V338.6L764.5 341.4V353.4V336.5V350L765 345.8V340.3V356V347.2L765.5 341.9V339V353.2V343.7L766 337.4V351.2V340.5L766.5 346.2V347.4V336.5V345.5L767 351.5V340.3V347.2L767.5 342V336V353.8V342.9L768 346.7V337.2V352.9V347.3L768.5 349.7V352.2V341.3V348.4L769 346.2V341.6V349.4V344.2L769.5 358.8V341.9L770 342.9V339.2V350.1V343.1L770.5 344.5V338.8V356.4V351.8L771 350.2V353.7V339.6V346.5L771.5 345.4V341.6V351.2V348.4L772 345.7V340.8V354.1V346.6L772.5 348.4V343.8V352.5V344.3L773 347.4V355.9V341V347.2L773.5 347.5V351.1V341.9L774 350.1V345.3V355.3V349.5L774.5 349.5V338.5V356.4V345.5L775 350.8V341.6V355.3V347.9L775.5 348.5V341.6V357.1V345.8L776 352.3V357.9V344.3V351.8L776.5 348.1V356.5V343.4V354.9L777 347.1V343.8V354.9V352.4L777.5 351.5V356.8V343V351.8L778 343.1V342.2V355.3V346.9L778.5 342V357.3V320.5V353.4L779 345.3V355.3V343.4V347.9L779.5 346.6V354.7V346.2V354.5L780 353.9V361.8V340.1L780.5 348.7V340V354.5V350.4L781 354.9V356.1V341.9V349.6L781.5 361.4V343.2V358.7L782 352.1V357.6V345.1V354.6L782.5 345.8V340.7V355.3V352.8L783 348.9V358.9V342V356.4L783.5 357.3V341.9V350.6L784 355.2V338.5V359.7V354L784.5 356.5V346.9V349.9L785 351V342.8V358.4V356.5L785.5 354.1V346.5V357V356.3L786 355.9V345.8V358.8V346L786.5 354.3V357.5V349.6V356.9L787 351.5V344.4V359.7V349.5L787.5 348.1V361.2V343.1L788 346.3V360.1V349.3L788.5 350.3V343.8V359.7V350.6L789 350V345.3V359.9V350.6L789.5 342.5V361.5V349.1L790 351.6V347.9V353.8V352.6L790.5 351.3V348.6V363V353.9L791 356.5V362.9V349V352.3L791.5 350.6V356V347V349.8L792 348.9V347.3V365.7V356.3L792.5 347.4V342.4V359V355.1L793 352.4V360.9V345.6V352.7L793.5 354V357.1V345.1V356.6L794 355.4V358.1V341.7V354L794.5 356.3V361.2V346V351.4L795 355.1V358.3V343.9V355.3L795.5 354.2V357.3V347.6V349L796 351.5V361.7V346.8V349.4L796.5 343.5V360.7V355.8L797 356.7V342.1V359.5V348.8L797.5 352V346.5V360.9V353.8L798 355.2V357V343V354.3L798.5 352.5V347.3V359.8V350.6L799 355.6V344.3V360.6V356.5L799.5 359.9V348.2V363.4V351.5L800 349.1V358.2V345.9V350L800.5 353.2V342.6V358.7V348.8L801 356.2V361.4V345.4V351.4L801.5 352V356.9V345.8V354.6L802 354.1V360.8V345.5V353.1L802.5 352V344.9V357V355.8L803 353.7V349.5V359V352.3L803.5 351.7V342.8V357.4V352.1L804 342.7V361.6V348.7L804.5 360.5V345.6V348.2L805 353.1V359.4V343V346.1L805.5 350.5V348.7V365.7V360.7L806 351.2V361.6V344.3V355.4L806.5 347.5V340.9V361V351L807 360.8V346.5V352.5L807.5 353.3V363.5V344.3V347.3L808 344.7V360.9V355.4L808.5 355.3V358.9V346.1V355.3L809 349.2V359.6V341.1V353L809.5 350.4V344.2V357.5V357L810 346.1V358.3V354.9L810.5 355.7V366.3V342.5V342.8L811 356.1V345.2V367.5V353.7L811.5 356.6V363.4V346.1V350.6L812 350V363.2V347V354.3L812.5 353.1V339.2V364.2V355.8L813 352.1V358.5V345.7V357.4L813.5 350.5V358.7V344.3V352.5L814 352.5V358.9V346.9V353.9L814.5 349V359.2V341.5V352.2L815 352V359.3V348.6V352.9L815.5 351.9V350.6V364.8V358.7L816 347.4V358.4V346.2V350.9L816.5 349V361.5V345.4V348.2L817 347.3V338.8V360.5V346.4L817.5 352.6V362.8V342.2V359L818 352V347.5V359.8V350.3L818.5 352.6V350.5V360.3V353.8L819 354.8V342.3V360L819.5 351.2V346.1V356.8V353.4L820 354.8V346.6V357.2V352.6L820.5 352.7V365.4V344.5V354.2L821 356.8V347.5V362.4V353.6L821.5 353.9V360.1V345.1V354.3L822 353.8V347.4V359.6V350.4L822.5 355V358.5V344.3V350.3L823 354.3V363.4V347.4L823.5 354.4V345.5V359V354.6L824 356.9V348.3V357.3V352.5L824.5 357.8V346.8V361.5V356.1L825 355.2V359.4V348.8V348.9L825.5 356.7V361.3V347.9V358.2L826 350.6V361.2V343.5V345.5L826.5 354.5V346.5V360V350.6L827 351.8V350.3V365.5V358L827.5 350.7V344.1V360.4V350.1L828 356.2V344.6V361.5V359.6L828.5 351.1V348V359V357L829 350.6V359.3V345.1V357.6L829.5 350.5V339.4V360.6V356.8L830 350.7V364.3V345.1V354L830.5 351.8V346.6V361.2V350.5L831 357.8V347.1V356.9L831.5 351.6V360.4V345.6V353.1L832 346.2V361.2V356.7L832.5 351.9V343V360.2L833 355V360.9V344V344.8L833.5 359.5V347.2V361.2V354.1L834 351.3V356.4V332" stroke="#ff0000"/>
<path d="M651 195H653.5L653.6 304L654.7 327H649.8L650.9 304Z" fill="#ff0000" stroke="none"/>
<path d="M652.2 174.3V196" stroke="#ff3030" stroke-width="1.4"/>
<path d="M778.6 320.5V342" stroke="#ff4a4a" stroke-width="1.9"/>
<path d="M421 57.7V150" stroke="#ff4545" stroke-width="1.6"/>
<path d="M161.8 314.5L162.2 315L162.7 316.3L163.1 315.3L163.5 313.9L164 312.6L164.4 308.4L164.8 313.8L165.3 312.2L165.7 312.2L166.1 320L166.6 307.6L167 313.2L167.4 316.5L167.8 315.7L168.3 316.5L168.7 309.2L169.1 310.1L169.5 314.6L170 311.9L170.4 317.7L170.8 313.3L171.2 313.2L171.7 313.9L172.1 311.8L172.5 312.8L172.9 310.5L173.4 312.3L173.8 310.9L174.2 313L174.6 308.1L175 307.8L175.5 313.5L175.9 312.7L176.3 309.2L176.7 311.3L177.1 308.8L177.6 317.8L178 307.2L178.4 316.7L178.8 309.3L179.2 312.8L179.6 310.8L180 310.4L180.5 314.1L180.9 313.7L181.3 310.5L181.7 308.6L182.1 317.2L182.5 315.2L182.9 311.4L183.3 310.1L183.8 311.7L184.2 311L184.6 314.1L185 307.7L185.4 310.5L185.8 308L186.2 314L186.6 315.3L187 309.7L187.4 311.4L187.8 313.8L188.2 308.7L188.6 306.8L189 312.4L189.4 310.8L189.8 308.6L190.3 313.3L190.7 309.7L191.1 303.7L191.5 309.8L191.9 308.5L192.3 314.1L192.7 308.5L193.1 307.8L193.5 309.6L193.9 309L194.3 304.1L194.7 308.5L195.1 307.1L195.5 312.1L195.8 315L196.2 304.7L196.6 305L197 305.3L197.4 305.8L197.8 305.7L198.2 307.8L198.6 310.8L199 303.7L199.4 303L199.8 302L200.2 310.6L200.6 311.2L201 302.7L201.4 302.4L201.8 307.4L202.1 310.2L202.5 309.9L202.9 307.4L203.3 308.7L203.7 307.6L204.1 304.9L204.5 312.1L204.9 306.4L205.3 303L205.6 304.8L206 301.5L206.4 306L206.8 309.1L207.2 302L207.6 308.9L208 311.6L208.3 306.5L208.7 301.9L209.1 302.6L209.5 304L209.9 301.1L210.3 301.1L210.6 303.8L211 303.9L211.4 306.1L211.8 300.6L212.2 309.5L212.6 307L212.9 306.3L213.3 301.7L213.7 308.5L214.1 302.2L214.5 308.4L214.8 306.1L215.2 300.1L215.6 301.2L216 307.8L216.3 305.1L216.7 301.5L217.1 302.3L217.5 302.1L217.8 299L218.2 300.4L218.6 298.9L219 299.3L219.3 301.7L219.7 297.3L220.1 302L220.5 299.9L220.8 301.6L221.2 301.7L221.6 302.5L222 300.5L222.3 300.5L222.7 297.6L223.1 299.6L223.4 295L223.8 296.7L224.2 299.4L224.5 296.8L224.9 298L225.3 293.4L225.7 300.3L226 294.3L226.4 297L226.8 295.5L227.1 298.1L227.5 294L227.9 292L228.2 289.1L228.6 293.6L229 290.7L229.3 295.6L229.7 298.1L230.1 287L230.4 289.5L230.8 294L231.1 296.5L231.5 293.5L231.9 293.3L232.2 293.6L232.6 293.6L233 296.5L233.3 293.1L233.7 287.4L234 289.4L234.4 291.2L234.8 287.9L235.1 289.2L235.5 288.1L235.8 287.3L236.2 291.2L236.6 287.7L236.9 285.3L237.3 286.1L237.6 288L238 293.9L238.4 288L238.7 291.4L239.1 288.1L239.4 279.9L239.8 287.1L240.1 283L240.5 281.2L240.9 281.6L241.2 289.8L241.6 279.4L241.9 281.9L242.3 286.8L242.6 284.9L243 277.5L243.3 281.8L243.7 280.2L244 280.8L244.4 283.2L244.7 278.8L245.1 279.1L245.5 284L245.8 273.7L246.2 277.7L246.5 279.7L246.9 274.2L247.2 275.6L247.6 273.1L247.9 277L248.3 274.2L248.6 278L249 278.2L249.3 274.8L249.7 273.1L250 274.5L250.3 273.5L250.7 269.2L251 275.6L251.4 272.6L251.7 273.8L252.1 266.9L252.4 273.1L252.8 276.2L253.1 271.3L253.5 264.6L253.8 268.6L254.2 267.8L254.5 268.1L254.8 266.2L255.2 267.9L255.5 264.5L255.9 266L256.2 262.7L256.6 264.5L256.9 266.6L257.3 261.6L257.6 264.5L257.9 259.2L258.3 260.2L258.6 260L259 263.8L259.3 257.1L259.6 262.4L260 253.7L260.3 256.9L260.7 259.5L261 258.1L261.3 252.2L261.7 250.7L262 256.2L262.4 249L262.7 253.6L263 249.4L263.4 250.1L263.7 256.1L264 252.9L264.4 249.9L264.7 242.3L265.1 246.4L265.4 244.7L265.7 243.3L266.1 246.7L266.4 236.6L266.7 241.9L267.1 240.4L267.4 236.9L267.7 243.5L268.1 233.7L268.4 236.7L268.7 236L269.1 228.3L269.4 229.7L269.7 230.2L270.1 234.7L270.4 234.3L270.7 232.4L271.1 230.4L271.4 222.2L271.7 228.7L272.1 225.6L272.4 229.8L272.7 229.5L273.1 231.3L273.4 225.9L273.7 225.3L274.1 218.9L274.4 221.4L274.7 216.6L275 222.2L275.4 215L275.7 217.1L276 214.4L276.4 214.6L276.7 216.6L277 212.6L277.3 214.2L277.7 209.6L278 216L278.3 209L278.7 213.2L279 215.8L279.3 201.1L279.6 204.6L280 206.2L280.3 209.5L280.6 203.7L280.9 205.5L281.3 201.4L281.6 204.4L281.9 198.2L282.2 203.5L282.6 191L282.9 193.5L283.2 203.9L283.5 198.1L283.9 194.1L284.2 202.8L284.5 198.7L284.8 198.4L285.1 193.2L285.5 196L285.8 195.2L286.1 188.2L286.4 194.6L286.8 192L287.1 196.2L287.4 196.2L287.7 190.3L288 190.5L288.4 193.2L288.7 195L289 192.1L289.3 193.4L289.6 196.1L290 195.9L290.3 198.7L290.6 196.4L290.9 193.6L291.2 191.6L291.6 200.3L291.9 197.6L292.2 198.3L292.5 199.4L292.8 196.3L293.1 200.8L293.5 194.9L293.8 202.4L294.1 201.7L294.4 210.8L294.7 207.3L295 206.1L295.4 208L295.7 210.5L296 206.8L296.3 209.1L296.6 209.5L296.9 219L297.2 212.4L297.6 207L297.9 216.2L298.2 222.5L298.5 212.5L298.8 226.9L299.1 216.9L299.4 221L299.8 217L300.1 218.7L300.4 216.6L300.7 218L301 215.6L301.3 226.6L301.6 220.4L301.9 226L302.2 226.8L302.5 224.7L302.8 227.8L303.1 228.3L303.4 228L303.7 230.6L304 231.5L304.3 229.2L304.6 229.2L304.9 231.6L305.2 235.6L305.5 240.5L305.8 241.8L306.1 239.1L306.4 242.1L306.7 240.5L307 244.5L307.3 242.4L307.6 244.3L307.8 243.1L308.1 245L308.4 252L308.7 243.2L309 248L309.3 247.1L309.5 253L309.8 256.8L310.1 251.1L310.4 244.4L310.7 256.2L310.9 257.3L311.2 251.1L311.5 256.8L311.8 258.5L312 252.4L312.3 263.1L312.6 263.4L312.9 263.9L313.1 260.8L313.4 263L313.7 264.3L313.9 268.9L314.2 265.3L314.5 274.2L314.7 271.7L315 264.4L315.3 277.8L315.5 273.8L315.8 272.4L316.1 275.4L316.3 270L316.6 277.3L316.8 269.5L317.1 274.9L317.4 283.4L317.6 283.9L317.9 279.4L318.1 278.1L318.4 284.9L318.7 282.4L318.9 284L319.2 286L319.4 281.1L319.7 287.9L319.9 279L320.2 291.4L320.4 282L320.7 285.8L320.9 286.2L321.2 291.4L321.4 292.1L321.7 291.4L321.9 292.6L322.2 292.9L322.4 291.7L322.7 286.1L322.9 285.4L323.2 285.9L323.4 293.9L323.7 293.8L323.9 294.6L324.1 296.3L324.4 295.3L324.6 293.3L324.9 292.1L325.1 291.3L325.4 302.1L325.6 301.6L325.8 294.5L326.1 298.6L326.3 301.4L326.5 305.7L326.8 298.9L327 301.9L327.3 305.7L327.5 296.4L327.7 300.2L328 303L328.2 301.2L328.4 311.1L328.7 307.3L328.9 305.5L329.1 302L329.4 308.6L329.6 308.2L329.8 304.8L330.1 305.5L330.3 302.4L330.5 307.5L330.7 311L331 311.9L331.2 310.8L331.4 312L331.7 307.6L331.9 308.4L332.1 314.4L332.3 312.3L332.6 308.4L332.8 313.1L333 314.6L333.2 314.5L333.5 312.8L333.7 311.1L333.9 314.5L334.1 319.2L334.4 314.3L334.6 311.9L334.8 315.6L335 310.6L335.2 315.8L335.5 314.3L335.7 318.9L335.9 316.3L336.1 319.8L336.3 324.4L336.6 316.1L336.8 314.3L337 319L337.2 317.4L337.4 318.5L337.6 316.2L337.9 320.4L338.1 319L338.3 311.7L338.5 318.5L338.7 320.8L338.9 323.9L339.1 318.2L339.4 317.7L339.6 324.7L339.8 318.9L340 321.6L340.2 323.1L340.4 324.3L340.6 322L340.8 318.4L341.1 326L341.3 321.3L341.5 321.2L341.7 330.2L341.9 326.6L342.1 320.1L342.3 322.4L342.5 323.4L342.7 321.9L342.9 318.1L343.1 327.7L343.3 327.9L343.6 326.3L343.8 324.3L344 326.6L344.2 328.3L344.4 322.7L344.6 325.4L344.8 324.8L345 329.4L345.2 328.1L345.4 322.9L345.6 325.5L345.8 334L346 324.7L346.2 328.8L346.4 326.2L346.6 333L346.8 328.6L347 327.5L347.2 325.1L347.4 328.5L347.6 332.5L347.8 332.1L348 325.3L348.2 335.6L348.4 329.4L348.6 326.8L348.8 331.1L349 328.6L349.2 328.9L349.4 328.9L349.6 331L349.8 329.7L350 325.6L350.2 333.6L350.4 330.1L350.6 336.2L350.8 334.1L351 334.5L351.2 333.1L351.4 337.1L351.5 331.6L351.7 329.4L351.9 334.2L352.1 323.6L352.3 332L352.5 334.1L352.7 332L352.9 338L353.1 336.2L353.3 334.3L353.5 332.6L353.7 337.9L353.9 331.8L354 332.9L354.2 337.1L354.4 336.7L354.6 341.8L354.8 334L355 328.3L355.2 337.3L355.4 339.5L355.6 334.6L355.8 340.8L355.9 341.7L356.1 333.2L356.3 333.9L356.5 331.3L356.7 337.8L356.9 338.5L357.1 338.2L357.2 331.8L357.4 333.5L357.6 331.3L357.8 330.7L358 331.8L358.2 331L358.4 336.1L358.5 338.3L358.7 339.1L358.9 336.9L359.1 334.7L359.3 337.2L359.5 339.3L359.6 336.3L359.8 337.7L360 336.5L360.2 335.8L360.4 337.9L360.6 333.9L360.7 341.7L360.9 332.4L361.1 339.7L361.3 333.3L361.5 343.6L361.6 341.4L361.8 335.5L362 336.9L362.2 334.6L362.4 338.5L362.5 340.2L362.7 348L362.9 334L363.1 343.4L363.3 337L363.4 340.1L363.6 342.4L363.8 341.3L364 340.9L364.2 338.8L364.3 339.5L364.5 340.2L364.7 344L364.9 334.5L365 338.1L365.2 335.4L365.4 336.5L365.6 337.2L365.7 344.1L365.9 347.9L366.1 345.1L366.3 336.1L366.4 340.7L366.6 336.4L366.8 342.1L367 345.2L367.1 342.8L367.3 343.9L367.5 340.3L367.7 333.8L367.8 333.8L368 340.7L368.2 343.2L368.4 345.7L368.5 340L368.7 341.6L368.9 342.3L369 345.3L369.2 341.2L369.4 337.6L369.6 345.5L369.7 343.2L369.9 343.1L370.1 337.2L370.2 341.8L370.4 335.7L370.6 334.7L370.8 341.2L370.9 340.5L371.1 344.2L371.3 347.5L371.4 342.2L371.6 348.8L371.8 340.3L371.9 345.2L372.1 337.9L372.3 343L372.4 341.5L372.6 341.9L372.8 344.9L372.9 335.9L373.1 343.3L373.3 340L373.4 343.4L373.6 344.5L373.8 341.7L373.9 341.8L374.1 339L374.3 345.3L374.4 340.9L374.6 345L374.8 338.2L374.9 348.5L375.1 339.8L375.3 347.8L375.4 342L375.6 345.7L375.8 343.2L375.9 346.3L376.1 343.9L376.3 348.6L376.4 346.4L376.6 346.5L377 350.2V341.6V344.5L377.4 338.9L377.6 346.1L377.7 343.7L377.9 350.7L378.1 342.7L378.2 344.8L378.4 345.5L378.5 337.7L378.7 346.6L378.9 341.1L379 350.1L379.2 351.1L379.3 344.9L379.5 339.2L379.7 345.8L379.8 345.8L380 347.9L380.2 344.2L380.3 340.9L380.5 344.8L380.6 342L380.8 352L380.9 342.9L381.1 343.2L381.5 345.5V341.1V345.3L381.9 344L382.1 345L382.2 350.5L382.4 347.6L382.5 341.1L382.7 344.5L382.9 348.9L383 343.8L383.2 346.6L383.3 346.2L383.5 348.3L383.6 345.8L383.8 346L384 343.3L384.1 347.9L384.5 343.2V353.1V346L384.9 349.8L385 346.6L385.2 347.3L385.4 346.8L385.5 344.3L385.7 343.7L385.8 344.5L386 351.4L386.1 344.9L386.5 345.8V345.7V354.8L386.9 344L387.1 349.5L387.2 348L387.4 346.5L387.5 349.5L387.7 343L387.8 350.8L388 348.6L388.1 344.1L388.5 353.8V342.6L388.9 347L389 346.1L389.2 350.4L389.3 353.2L389.5 341.1L389.6 348.3L389.8 347.8L389.9 352L390.1 348.2L390.5 343.7V347.7V345.6L390.9 348.7L391 346.8L391.2 349.7L391.3 343L391.5 357.3L391.6 353.4L392 351.4V340.8V345.7L392.4 348L392.5 357.2L392.6 353.8L393 347.1V353.6V349.2L393.4 353.7L393.5 350.4L393.7 346.8L393.8 344.8L394 348.8L394.1 353L394.5 344.3V351.4V339.3L394.9 356.2L395 347.8L395.2 352.2L395.5 356.4V344.1V357.9L395.9 348.5L396 349.1L396.2 350.5L396.3 353.6L396.5 354.6L396.6 350.1L397 348.5V354.6L397.4 350.3L397.5 356.6L397.6 346.6L398 351.8V356.4V351.1L398.4 346.6L398.5 347.2L398.7 349.3L399 351.1V344.5V347.2L399.4 351.9L399.5 353.1L399.7 344.8L400 348.6V343.7V363.3L400.4 350.3L400.5 348.7L400.7 347.8L401 345.5V343.1V349.9V349L401.4 355.6L401.5 343.9L401.6 351.7L402 355.1V342.8V344.1L402.4 352.1L402.5 355.6L402.6 350.1L403 351.2V347.5V354.4L403.3 349.5L403.5 349.6L403.6 351.6L404 353.3V344V347.6L404.5 352.1V351.4V355.1L404.9 346.5L405 348.7L405.1 346.5L405.5 350.5V350.6V345.7L406 350V348.6V352.5V349.3L406.4 354.7L406.5 351.2L406.6 343.3L407 349.6V344.9V355.7L407.5 350.2V352V341.9L407.9 348.2L408 349.4L408.1 344.6L408.5 350.7V356.2L409 353.4V349V352.7L409.3 346.5L409.5 355.4L409.6 353.8L410 349.6V348V364.8V353.6L410.5 354V357.2V351.2L411 353.1V353.2V344.7L411.5 352.1V344.6V357.7L411.9 346.1L412 354.4L412.1 348.5L412.5 351.7V348V359.9V354.4L413 357.4V351.1L413.5 349.7V352.9V350L414 345.4V352.9V348.8L414.5 351.9V346.7V347.2L414.9 347.8L415 349.5L415.1 349.7L415.5 354.9V342.9V353.3L416 348.9V360.4V356.2L416.5 352.9V351.2V354.3L417 348.4V348V356.7L417.5 356.6V348.4V350.1L418 354.8V349.5V350.3L418.5 349.7V351.4V348.6L419 345.6V357.2V343.9L419.5 342.2V340.1V356L420 344.6V343.8V355L420.5 352.2V352.1V357.1L421 354.8V345.8V346.9L421.5 344.2V357.8V351.4L422 351.6V358.6V348.7V355.4L422.5 352V343.5V354.4L423 348V351.8V351.3L423.5 355.2V348.3V352L424 351V350V355.6L424.5 348.2V345.4V355.5L425 349V348.5V351.6V350.3L425.5 352.1V344.4V356.7V353.2L426 347.7V356.6L426.5 346.5V357.3V343.1L427 353.9V347.1V350.2L427.5 343.5V353.2V350L428 356.4V347.3V350.8L428.5 355.1V347V354.6L429 351.2V359V346.3L429.5 351.8V344.2V353.3L430 355.4V346.1V354L430.5 350.6V360.5V347.6V352.7L431 343.9V357.1V349.5L431.5 353.4V358.5V348.7L432 346.1V343.2V350.4L432.5 352.6V347.4V355.7L433 350.3V354.7V346L433.5 347.5V360.7V347V350.1L434 348.9V346.3V351L434.5 351V353.2V344.4V345.3L435 354.1V355.8V345.6L435.5 353.2V347.2V355.9L436 359.3V350.8V352.3L436.5 354.2V341.2V352.9L437 348.2V355.4V351.4L437.5 350.2V349.7V356.9L438 349.3V347.5V354.9L438.5 352V353V350.7L439 347.1V352.7L439.5 349.7V356.4V349.3V352L440 349.9V345.3V349.1L440.5 348V354.4V346.7V353.7L441 350.7V354.4V344.8L441.5 349.6V347.5V356.4V353.1L442 357.7V349.8V352.8L442.5 350.2V356V351.4L443 349.9V344.9L443.5 352.6V354.3V349.3V351.3L444 352.1V358.1V347.9L444.5 352.6V353.9V347.3L445 348.9V356.8V348.7V353L445.5 353.2V355.1V352.2V352.9L446 354.7V343.6L446.5 348.1V345.3V355V350L447 350.7V350.2V351.7L447.5 352.6V348.2V354.3L448 349.6V356.8V346.7L448.5 348.6V353.1V350.6L449 359V349.1V357.6L449.5 354.5V345V349.5L450 352.7V354.7V348.4V354.6L450.5 351.9V347.2V348.7L451 346.4V355V351.2L451.5 346.3V338.7V355.9V345.6L452 348.5V352V348V349.3L452.5 350.3V352.1V348.3L453 351.4V356.8V344.6L453.5 350.9V356.1L454 347V351.8V349L454.5 356.2V348.5V350.5L455 351.9V350.5V353.1L455.5 356.5V348V357.6V353.8L456 351.9V343.8V357.4V348.4L456.5 348.3V358.6L457 357.7V346.2L457.5 351.9V352.2V345.7L458 354.7V346.3V357.2L458.5 352.9V347.3V358.3L459 347.1V352.5L459.5 351.1V348.7V359.3V350.6L460 355.5V347.3L460.5 354.2V355.2V350.6V351.3L461 344.7V354.6V351.8L461.5 349.8V348.1V355.9L462 351.3V349.4V350.4L462.5 342.9V353.1V351L463 351.9V355.8V347.3V352.8L463.5 348.6V357V345.8V352.9L464 350.6V343.1V361.1L464.5 356.6V346.8L465 352.1V352.7V349.8V350L465.5 349.1V357.2V348.4L466 352V357V353.1L466.5 347V359.1V356.4L467 345.6V355.9V350.1L467.5 357.1V358.5V346.2L468 353.1V353.3V348.1L468.5 352.1V346.3V354.9L469 349.6V356.1V343.3L469.5 351.8V345.8V353.8V348.1L470 348.9V357.9V342.4L470.5 347.1V357.9V346.4L471 358.9V350.6V352.8L471.5 348.4V344.5V351.3V348.5L472 355.1V347.2V351.7L472.5 347V351.3V344.6V351.2L473 351.1V354.5V341.7L473.5 347V357.2V352.5L474 353.6V344.6V355.9L474.5 355.9V347.7L475 343.8V358L475.5 353.6V345.5V355.4L476 352.3V357V347.5L476.5 359.5V348.7V352.8L477 348.8V348.7V357.4V352.6L477.5 343.4V350.4V349L478 349.4V344V354.8L478.5 346V353.7V352.5L479 348.4V347.3V356.7L479.5 348.6V342.9V358.1L480 349V354.4V343.2V353.5L480.5 351.2V340.6V356.5V352.9L481 344.6V354.9V353.5L481.5 349.4V348.5V362.6V351.9L482 352.6V345.2L482.5 352.4V340.8V350L483 351V353.7V346.3V349.2L483.5 350.7V355.1V348.5L484 350.1V346.6V354L484.5 352.9V355.4V351.6L485 355V345.4L485.5 358.9V349.3V362.6L486 346.6V350.9V346L486.5 348.2V354.3V346.3V352.6L487 356.9V339.2V353L487.5 348.6V356.1V346.8L488 352.2V355.2V344.9L488.5 353.6V354.2V347.5V349.8L489 351.3V359.1V347.9V348.6L489.5 358.7V360.3V346.4L490 355.3V347.3V356.2V353.4L490.5 359.5V350.5V355.5L491 354V355.4V349.9L491.5 345.3V357.5V351.4L492 349.5V343.6V351.2V350L492.5 355V344.7L493 354.3V347.3L493.5 351.3V344.5V357.4L494 346.9V354.9V349.7L494.5 343.7V358.6V348.7L495 349.5V358.9V349.2L495.5 347.3V342.4V355.6L496 353.3V345.2V354.4L496.5 346.8V349.5V342.8L497 343.1V359V356.6L497.5 351.2V358.9V345.2L498 347.8V355.4V347.1V347.8L498.5 344.5V350.4V346.1L499 353.2V347.3V351.2L499.5 346.8V343.8V353.4L500 342.3V350.7V347.4L500.5 344.4V353.6V343.4V345.1L501 345.3V341.3V353.9L501.5 352.2V354.5V339.3V348.1L502 350V342.4V356L502.5 344.1V355.2L503 347.4V352.8V347.5L503.5 347.6V352.3V343.5V348.4L504 353.3V345.8V350L504.5 354V344L505 348.9V343.7V350.8V345L505.5 346.2V341.9V353.6L506 346.1V345.7V351.2V348.7L506.5 347.4V353.7V343.3L507 345.1V349.7V341.7L507.5 337.9V353.4V344.1L508 349.5V343.3V351.5L508.5 344.8V338.9V355.4L509 352.6V339.7V346.9L509.5 347.8V341.7V347.9L510 343.1V349.9V347.1L510.5 347.7V340.1V349.3V341.8L511 351.3V342.7V347.6L511.5 349.5V342.8L512 346.7V347.6V339.3L512.5 341.7V337V345.2V340.2L513 348.2V348.6V342.6V346.6L513.5 346.7V339.2V342.9L514 344.3V355.1L514.5 349.9V354.5V344.1L515 344.5V339.1V347V342L515.5 335.5V347.6V341.5L516 335.4V349.7V334.7V343.6L516.5 350.3V335.5V349.9L517 344V332.8V340L517.5 343.8V349.5V333.5V335.5L518 337.5V336.2V342.6L518.5 339.3V339V343.1V339.8L519 337.4V332.2V350.6V337.2L519.5 337.1V340.7V333V334.8L520 333.7V346V330.9L520.5 331.4V339V329.9V333.3L521 340.3V336L521.5 337.4V332.5V338V332.7L522 338.4V345.5V331.5L522.5 328.4V337.7V337.7L523 340.1V330.8V331.8L523.5 328.2V338.1V333.2L524 335.7V323.9L524.5 338.8V339.2V323.8L525 329.4V320.3V331.2V325.5L525.5 328V330.2V318.4V326.5L526 331.5V321.5V329.8L526.5 323.4V335.4V323.2V328.4L527 323.2V315.2V329.5L527.5 322.5V315.9L528 324.2V325.5V314.6V321.3L528.5 321.1V326.6V317V322L529 317.7V314V323.7V316.6L529.5 312.7V324.4V315L530 318.1V325.1V313.1L530.5 316.6V317.9V311.8V313.4L531 310V318.1V306.7V308.8L531.5 312.2V310.5V318.5L532 302.6V311.7V299.9L532.5 305.3V316.7V299.9V306.6L533 307V308.5V297.8V300.5L533.5 295.4V311.9V311.1L534 302V298.5V314.7V305.2L534.5 310.9V295.4V311.7V308.2L535 301.8V311.5V301.7V308.1L535.5 310.6V302.5V313.8V307.4L536 315.4V301.9V316.6V310.2L536.5 308.4V306.7V316.2V312.4L537 300.5V321.3V307.4L537.5 314.5V318.3V310.6V313.7L538 307.9V315.5L538.5 317.9V319.4V308.8V314.3L539 312.6V308.4V328.9L539.5 318V326.1V312.7V316.7L540 319.9V313.7V330.5V320.8L540.5 324.6V318.2V327.7V327.1L541 314.1V333.6L541.5 328.8V331V320L542 331.2V325.6V332.2L542.5 325.4V333.7V321.2V333.1L543 327.8V325V329.8V328.5L543.5 333.6V322.3V343.1V336.6L544 332.8V325.6V338.6V331.4L544.5 326.5V339.4V337.1L545 326.2V344.9V342.9L545.5 342.8V345.2V334.9V342.7L546 337.3V328.5V347.3V329.7L546.5 337V328.3V346.8V343.8L547 344.3V348.4V333V338.7L547.5 339.9V334.8V347L548 348.8V335.6L548.5 339.1V354.8V341.3L549 344.2V334.3L549.5 345.2V333.4V350.6V346L550 349.9V344V346.8L550.5 342.3V350.7V348.7L551 345V340.7V350.8V342.9L551.5 343.1V351.1V339.8V346.2L552 345.6V353.5V340.2V349.1L552.5 356.3V342.2V347.8L553 354.6V337.2V347.3L553.5 348.1V343.4V355V350.4L554 340.6V354.1V351.1L554.5 343.8V353.9V338.8V347.6L555 348.9V344.6V357.6L555.5 345.5V343.6V353.8L556 347.9V351.9V345.5V349.6L556.5 356V342.2V356.8V347.5L557 351.1V352.5V344L557.5 349.6V361.5V346.9V351.8L558 354.7V344.8V347.8L558.5 353.6V343.3V354.9V344.5L559 347.9V355.7V343.8V346.4L559.5 341.7V339V356.1L560 349.4V355V346.1V347.5L560.5 348.9V359.2V349L561 355V338.2V362.5V350.1L561.5 350.6V356.3V346.7V351.9L562 356.4V345.9V360.2V354.6L562.5 355V346.2V358.1L563 352.2V349.7V357L563.5 352.3V345.3V356.3V346.7L564 350.7V356.8V342V343L564.5 354.4V345.7V361.7L565 348.3V347.8V353.4L565.5 352.8V346.6V361.7V357.9L566 358.3V343.6V358.4V348.7L566.5 356.8V347.2V352.9L567 351.3V357.9V343.7V356.7L567.5 356.8V345.6V358V354.5L568 350.5V346.2V361.4L568.5 352.1V353.1V347.3V349.7L569 351V346.9V356.8V355.8L569.5 350.5V343.9V358.9L570 350.7V356.6V346V348.6L570.5 361.4V345.1L571 359.3V345V361.6V359.2L571.5 355.2V349.3V358.4L572 356.1V345.1V356.7V354.6L572.5 357.5V344V360.6V351.3L573 352.7V363.4V351V353.7L573.5 357.8V347V358.8V349.8L574 350.1V345.8V358.3V358.2L574.5 356.6V347.3L575 360.5V343.8V348.5L575.5 355.8V359.2V347.7L576 354.5V348.3V358.2L576.5 352V359.4V346.9V357.3L577 357.9V345.6V359.5V347.3L577.5 349.3V341.7V362.5V352.9L578 357V349.6V355L578.5 351.1V359.7V350.2V354.3L579 359.2V361.7V347.5L579.5 360V344.8V352.2L580 353.4V343.2V354.3V346.4L580.5 354.7V357.4V349.3V355.4L581 349.1V366.9V353.9L581.5 358.5V364.3V345.7V354.8L582 353.8V343.4V357L582.5 355.1V351.4V362.5V351.8L583 360.1V348.8V360.3V353.3L583.5 355.3V357.6V350.5L584 355.6V361.5V349.2L584.5 355.2V346.6V358.8L585 344.5V357.9V344.4L585.5 355V345.3V361.5V356.4L586 359V362.6V348.9V352.7L586.5 355.2V357.7V345.5L587 351.1V365.1V356.7L587.5 352.9V349.2V360.3V351.2L588 353.7V346.4V360.1V352.7L588.5 354.6V352.9V362.3V355.8L589 349.1V361.7V360.7L589.5 350.4V361.7V359.1L590 346.9V359.4L590.5 355.4V358.7V348.3L591 352.2V349V357.8L591.5 350.6V348.6V363.2L592 353.8V343.2V360.8L592.5 362.7V340.4V350.4L593 355.1V348V359.3V350.8L593.5 353V359.4V349.9V357.4L594 357.8V358.2V348.1V350.3L594.5 350.9V362.7V362.2L595 359.3V366V352.1V356.2L595.5 348.1V359.5V353.7L596 355V354V363.8V362.3L596.5 358.5V346.8V360.1V355.2L597 354.9V343V358.1V356.7L597.5 354.9V362V341.6V357.6L598 349.3V364.5V350.3L598.5 348.7V363.7V355.8L599 359V349V359.2L599.5 358V363.6V347.3L600 351.2V363.2V347.7V353.2L600.5 357.4V367.2V351.2V353.7L601 356.9V360.6V344.6V355.8L601.5 353V360.2V343.7V351.4L602 355.5V345.9V358V350.8L602.5 357.4V360.3V350.4V357.9L603 354.3V359.8V346.4V351.6L603.5 358.9V346V361.1V353.9L604 357.3V357.5V348.9V357.2L604.5 345.1V364.1V352.6L605 358.4V361.8V344.9V358.6L605.5 358.2V367.5V349.3V353.1L606 356.3V349.6V359.2V350.6L606.5 353.8V346.6V361.8V354.2L607 348.7V360.2V356.6L607.5 360.4V347.3V354.3L608 357.1V362.2V349.5V355L608.5 346.1V361.3V351.5L609 347.4V358.4V352.4L609.5 355.9V348.8V360.3V358L610 355.6V351.4V363.5V357.7L610.5 353.5V368.2V350.3V354.7L611 356.5V348.3V360.4V359L611.5 360.1V350.9V352.8L612 353.4V353V361.7V361L612.5 352.9V349V356.6L613 356.7V365.8V350.5L613.5 358.2V350.4V365.7V354L614 353.3V356.6V349.2V352.5L614.5 358.3V359.7V345.8V348.9L615 344.4V361.6V350.7L615.5 355.9V349.5V365L616 358.1V360.2V350.6V358.3L616.5 352.3V346.1V362.6L617 358V365.6V343.5V360.3L617.5 352.2V362.8V342.6V348.9L618 359.9V364.4V349.3L618.5 353.1V355.9V349V352.6L619 359.7V361.4V349.4V356.4L619.5 357.4V349.5V362.8V359.9L620 359.8V362.8V349.8V361.5L620.5 354.4V360.7V347.7V356.4L621 354.7V344.7V369.7V364.2L621.5 356.4V350.5V360.8V351.1L622 350.7V359.9V355.1L622.5 358.9V352.5V357.6L623 361.1V364.9V351.8V357.7L623.5 356.9V341.6V361.9L624 358V359.3V350.4V356.6L624.5 349.7V346.3V361.7L625 354.1V364.1V352V352.2L625.5 359V366.8V350.8V358.9L626 356.4V367.6V348.4V356.2L626.5 351.9V349.9V366.5V353.6L627 352V351V364.1V353.5L627.5 357.6V363.7V350.4V360.7L628 354.6V362.3V350.7V356.8L628.5 344.7V362.7V356.1L629 341.4V360.8V353.6L629.5 356.5V363.4V348.1V350.6L630 358.3V365.7V355.8L630.5 347.2V361.2V357.2L631 363.1V349V365.8L631.5 359V363.6V349.9V361.6L632 357.3V351.1V369.1V355.9L632.5 350.4V350V362.6L633 353V360.4V347.6V355.9L633.5 360V353.1V361.2V354.8L634 348.4V361.3V360.1L634.5 356.7V350.6V365.9L635 359.9V362.7V350.6V356.2L635.5 347.4V359.6V347V358.4L636 360.6V362.4V345.2L636.5 359.9V365.9V348.1V360.9L637 357.6V362.7V354L637.5 343.6V365.1V357.2L638 357.7V355.4V366.9V360.2L638.5 354.5V365.4V357.6L639 355V354.1V360.2L639.5 362V365.6V352.8V355.4L640 349.5V363.9V348.6V352.7L640.5 355.9V352.4V365.4V353.9L641 358.5V365.6V349.7V356.8L641.5 355.8V362.7V355.7V360.6L642 352.6V365.6V350L642.5 354.9V348.6V367.3V359.2L643 354.9V361.6V344.7V360.5L643.5 358.4V362.6V355.2V358.1L644 354.8V368.2V347.8V358.3L644.5 351.6V365.1L645 351V349.6V363.7V356.9L645.5 356V361.1V347.4V359.7L646 359.5V362.6V350.2V356L646.5 349.9V363.7V360.2L647 364.2V340.5L647.5 361V350.2L648 356.4V351.1V363.1V354.6L648.5 345.5V362.6V357.8L649 357.1V363.9V352.4V360.9L649.5 352.5V361.6V350.2V359.7L650 361.5V351.7V362.9V358.7L650.5 355.9V353.2V362.2L651 364.6V350.3V357.1L651.5 360.7V347.2V365.4L652 365.3V351.3V370.3V360.6L652.5 353.4V362.4V348.7L653 359.6V362.1V351.1V360.5L653.5 353.8V364V344V359.2L654 352.8V351.1V362.4V359L654.5 358.6V347.9V367.4V355.9L655 355.2V366.7V347.5V359.3L655.5 357.8V366.2V353.4V353.6L656 357.8V362.1V347.8V353.9L656.5 356.2V364V353L657 359.4V363V349.9L657.5 359.4V347.9V364.9L658 351.5V348.8V361.3V355L658.5 355.8V345.8V365.3V358.2L659 351.3V346.7V365.3L659.5 353.1V366.6V350.8V355.5L660 354.8V348.9V357.9V353.7L660.5 357.8V359.2V348.9V354.8L661 348.7V360.7V354.2L661.5 357V343.3V354.6L662 345V364.6V339.6V352.5L662.5 355.9V343.5V363.5V354.5L663 345.8V355.9V343.6L663.5 350.6V360.7V343.3V350L664 347.5V355.1V342.9V354.3L664.5 351.8V342.3V353.2V346.8L665 347.6V338.8V350.6V344L665.5 356.4V340V354.4L666 350.3V336.6L666.5 345.8V340.8V354V347L667 344.4V353.4V342.3V349.4L667.5 340.3V337.5V356.2V346.7L668 337.5V351V335.8V339L668.5 335.6V348.7V342.5L669 338.7V350.2V333.9V337.1L669.5 338.7V350.4V338.6V346L670 339.6V355.3V339.1V353.3L670.5 341.3V351.6V348.4L671 346.3V350.2V338.1V349.8L671.5 342.6V356.4V341.8V342L672 348.8V356.5V343.8L672.5 354.8V356.9V345V347.9L673 355.5V345.3V358L673.5 355.3V356.9V340.6V353.1L674 347.4V344.9V361.5V350.5L674.5 343.7V358.2V348L675 352.9V361.9V344.3V351.2L675.5 362.8V347.3V351.6L676 354.9V340.5V360.6V341.6L676.5 354.9V347.8V363.8L677 357.8V360.9V346.9V350.9L677.5 365.8V368.6V347.7V353.8L678 360.9V350.9V362.7V352L678.5 354.1V367.1V343.1V362.3L679 365.7V346V355.5L679.5 359.1V362.4V345.5L680 359.4V348.2V363.3L680.5 348.4V365.6V349.9L681 358.8V367.9V351.5V351.5L681.5 370.2V346V370.3V361.4L682 359.2V363.9V354.8V355.1L682.5 363.3V351.9V364.2V360.4L683 360.2V320.5V369V361.9L683.5 363.4V367.4V349.5L684 355.8V366.5V354.1L684.5 351.3V364.5V350.8V362.6L685 364.1V350.5V367.1V366.9L685.5 354.6V353.3V365.9V359.9L686 354.1V369.6V345.7L686.5 364.6V354.5V371.6V358.5L687 367.5V349.7V359L687.5 357.9V366.4V352.8L688 353.9V366.8V355.5L688.5 360.7V351.9V363L689 361.6V368.5V353.8V361.4L689.5 365.2V353.3V368V354.5L690 354.5V369.8V356.5L690.5 358.4V367.8V351.8V361.2L691 371.7V353.9V355L691.5 366.7V369.1V350.8V350.9L692 358.6V368.7V357.4V357.7L692.5 359.2V353.1V368.6V363L693 364.2V351.5V368.5V359.4L693.5 358.5V365.2V352.3L694 365.8V355V367.9V366.7L694.5 351.5V349.7V369.4V361.7L695 362.5V358.3V369.7V360.7L695.5 369.9V355.1V357.5L696 351.9V368.8V361.8L696.5 368.5V347.5V372.2V363L697 354.5V368.1V349.9V358.6L697.5 368.7V370.8V355.4V357.1L698 365.2V345.7V359.4L698.5 358.2V351.6V365V363.7L699 359.9V354.9V366.1V365.1L699.5 371.1V354.9V361.4L700 357.9V354.6V368.3V360.4L700.5 365.9V357L701 364.7V349.6V365.1V364L701.5 365.3V365.8V357.1V361.9L702 366.6V356.1V369V356.9L702.5 357.9V368.9V362.7L703 354V351.4V364.8V362.5L703.5 365.7V350.6V367.3V360.5L704 356.6V371.9V354.3V366.6L704.5 360.5V368V355.5V360.8L705 359.8V372.9V348.8V353.8L705.5 351.8V373.1V367.1L706 365.5V370.5V349.5V366.8L706.5 369.1V354V372.2V366.2L707 363.8V369.1V354.5V354.6L707.5 359.3V368.7V354.3L708 357.8V362.6V321V356.7L708.5 352.1V349.5V365.2V352L709 374.2V351.7V352.8L709.5 354.4V352.4V372.3L710 354.8V370.6V351V356.5L710.5 359.6V373.7V355.8V362.2L711 355.9V373V367.7L711.5 361.3V366.2V353.9V357.5L712 373.4V354.8V358.4L712.5 363.1V369.8V356.1V358.8L713 357.4V357.1V370.9V365L713.5 362.6V367.2V351.9V358.1L714 364.8V349.4V365.4V362L714.5 359.1V368.2V359V359.4L715 355.9V348.3V369.5V368L715.5 363.7V349.7V369.2L716 352.2V367.7V366L716.5 363.2V351.6V373.2V365.2L717 363.8V353V367.7V367.3L717.5 363.5V351.1V375.6V353.8L718 366.3V357.1V369.3V358.9L718.5 355V353.4V366.8L719 366.3V368.3V352.5V364L719.5 361.6V356V370.6V366.5L720 361.2V363.9V353.3V359.8L720.5 365.6V351.2V375.8V355.7L721 362.1V354.8V363.1L721.5 360.4V370.6V359.2V369.1L722 368V359.2V371.5L722.5 362.4V373.1V352V353.5L723 365.7V366.6V353.1V359.9L723.5 363.2V368.6V346.4V367.6L724 358.3V354.1V367.5V361.5L724.5 363.1V369.5V354.3V360.2L725 362.6V348.8V373.2V368.6L725.5 357.9V356.2V367.9L726 355V354.8V371V362.9L726.5 356V376.1V351.8V362.3L727 356V328V373.7V360L727.5 360.2V356.3V366.3V360.7L728 358.6V352.5V368.3V355.2L728.5 356.2V365.5V354.4L729 363.7V371.4V353.8V365.2L729.5 365.7V370.5V347.7V357.7L730 365.8V376.1V351.9L730.5 358.6V352.3V365.7V365.4L731 364.5V351.2V367.4L731.5 362.5V367.6V349.4V355.8L732 356V347.3V365.1V355.5L732.5 355.6V350.7V364.5V356.1L733 357.4V349.1V367V355.9L733.5 357.6V369.8V349.7V359.9L734 362.2V368.7V343.6V356.4L734.5 359.7V366.5V347.9V361.7L735 357.8V363.5V350.8V351.7L735.5 356.8V365.4V352.9V364.7L736 360.1V351.3V365.3V357.2L736.5 355.8V368.7V346.6V353.7L737 363.2V371.1V346.8V361.6L737.5 355.4V348.9V364.7V356.8L738 359.4V365.8V347V355.6L738.5 362V349.8V364.3V356.3L739 360.9V349.4V367.1V358.4L739.5 356.1V347.5V364.2V357.1L740 358.8V351.9V364.9V355.9L740.5 361.2V369.6V351.1V360.7L741 354.1V353.2V366.8V354.2L741.5 354.3V362.3V348.6V356.5L742 357.5V351.9V368.7V357.4L742.5 356.8V346.2V361.3V359.3L743 361.1V348.6V364.7V354.7L743.5 352.5V349.2V363.5L744 355.3V363.3V346.8V357.1L744.5 355.9V350.3V368.3V354.7L745 352.3V366.5V355L745.5 349.1V328.5V366.1V357.7L746 356.3V354.3V365.7V365.4L746.5 360.9V364.4V350.3V359.8L747 354.3V344.8V371.3V355.1L747.5 356V348.6V364.1V357.5L748 369.6V347.7V348.4L748.5 356.6V348.7V369V363.8L749 353.2V367V353.5L749.5 361.2V367.3V349.1V364.9L750 359V351.9V364L750.5 357.1V364.4V349.6V353.8L751 362.4V364.1V350.5V358.3L751.5 351.9V346.7V367.7V360.9L752 356.5V351.2V364.6V353.5L752.5 354.9V354V369.2V365.1L753 357.9V347.6V361.1V355.2L753.5 364V348.2V356.4L754 356.9V365.6V347.1V355.9L754.5 351.2V363.3V352.2L755 356.8V363.9V348.9V361.9L755.5 364.4V349V368.7V353.7L756 357.7V363.5V349.1V361.9L756.5 355.6V350V363.5V355.1L757 363.9V348.8V360.1L757.5 363V367.6V350.6V360.8L758 359.1V362.6V348.8V361.1L758.5 354V365.7V351.8L759 359.6V350.1V374.7L759.5 361.3V330V363.3V360L760 363.3V366.7V350.7V358.7L760.5 363.4V350.1V368.1V351.2L761 352.1V349.7V365.6V364.8L761.5 358V367.8V344.3V357.3L762 364.7V349.5V365.6V362.1L762.5 361.2V366.5V353.7V365.5L763 354.6V352.2V368.5V366.6L763.5 360V370.4V348.8V359.3L764 359.1V351.7V365.9V352.7L764.5 357.2V366.9V352.5V365.1L765 356.3V356.2V366.7V357.1L765.5 350.6V371.6V349.6V356.9L766 368.5V368.6V353.8V368.1L766.5 363.5V370.9V354.1V361.4L767 356.5V370.5V356.3V358.2L767.5 352.6V369.2V361.9L768 355.5V370.2V353.8L768.5 360.1V369.6V350.3V363.8L769 360.9V372.1V355.5V368.5L769.5 364.6V353.6V369.1V360.1L770 364.7V372.5V355.4V361.9L770.5 366.5V368.5V352.7V366.1L771 366.7V353.8V369.4V360.5L771.5 362.3V349.3V370.4L772 357.5V369.8V369.7L772.5 366.7V352V362L773 363.9V352.8V367.1V366.2L773.5 354.6V368.1V363.5L774 366.7V357.8V372V358.2L774.5 361.2V354.4V369.9V361.7L775 362.1V368.3V356.1V362.1L775.5 369.7V360.4V377.1V362L776 359.9V349.6V369.4V367.3L776.5 369.2V357.8V369.7V362.2L777 358V373.1V354.9L777.5 362.8V351.6V368.3V367.3L778 366.2V358.6V374.3L778.5 371.1V371.9V348.6V363.7L779 372V355.6V373.1V359.4L779.5 367.5V356.4V363.4L780 366.3V374.9V359.6V360.1L780.5 371V356.2V376.6L781 354.5V368.6V362.5L781.5 362.8V357.5V374.1V372.3L782 360.1V354V375.7V368.2L782.5 365.8V361.2V372.2L783 374.7V358.2V375.8V362.3L783.5 363.9V351.2V373.1V361L784 369.1V369.7V358.1V364.5L784.5 364V359V372.4V368.5L785 362.8V374.4V356.5L785.5 374.4V375.9V354.2V372.9L786 372V359.1V377.2V366.4L786.5 373.3V352.3V381.6V362.9L787 371.6V352.9V374.9V364.7L787.5 364.4V374.3V358.5V370.1L788 349.7V373.3V358.4L788.5 363.6V353.6V376.3V372.9L789 367.3V375.1V358.6L789.5 367.4V374V356L790 367.1V375.3V355V371.6L790.5 363.3V357V373.9L791 364.6V361.6V375.2L791.5 362.5V374.9V354.6V369.6L792 366.3V375.5V354V371.5L792.5 361.6V374.6V357.3V362.2L793 365.9V374.4V358.7V361.2L793.5 365.2V360.1V375.5V371.1L794 358.4V353.7V377.7V370.1L794.5 363.5V374.5V358.3V367.2L795 355.2V375.9V375.7L795.5 365.7V357.3V377.1V364.9L796 368.6V356.4V378.2V370.2L796.5 369V373.9V358.5V368.3L797 364.5V379.7V360.6V361.3L797.5 380.7V360.7V364.9L798 371.9V380.3V357.8V369.5L798.5 363.5V375.6V356.3V356.8L799 359.6V358.9V375.4V364.4L799.5 364.4V376.5V357.4V362.8L800 372.4V373.5V364.1V370L800.5 365V378.5V359.7V368.3L801 366.7V376.2V360.2V372.8L801.5 364.6V357.8V381.3L802 360.9V374V369.3L802.5 366.1V376.1V358.2V363L803 362.5V361.4V374.8V372.1L803.5 362.5V362.2V382.4L804 370.1V363.9V376.7V375.5L804.5 362.6V379.7V360.1V366.7L805 361.7V354.6V380.6V370.1L805.5 371.6V375.8V356.6V373L806 378.4V360.8V362.2L806.5 376.7V377.8V361.8V364.9L807 373.6V355.2V377.1V361L807.5 370.3V371.6V362.5V362.8L808 374.3V377.7V362.5V373L808.5 372.2V356.2V381L809 366.9V378.3V353.7V370.7L809.5 364.8V375.7V356.9V371.2L810 365.6V362.8V375.1V369.5L810.5 375.6V377.1V360.9V373.6L811 376.8V359.5V362.8L811.5 364.9V375V359.5V366.5L812 369.3V360.4V375V362.6L812.5 373.6V359.6V377.1V371.3L813 362.5V359.2V376.2L813.5 374.5V362.7V376.2V370.1L814 372.9V378.2V358.8V369.4L814.5 362.9V358.6V375.1V367.8L815 375V377.9V357.9V366.5L815.5 364.4V377.6V357.6V370.1L816 366.6V375.9V357.9V367.5L816.5 362.8V362.6V380.5V368.4L817 367.6V362V378.1L817.5 366.5V378.3V362.5V372.3L818 365.7V373.6V360.5L818.5 372.1V361.1V374.8V369.9L819 366.1V361.1V377.2L819.5 364.6V358.1V383.3V363.3L820 369.4V377.3V360.4V370.3L820.5 382.7V383.2V352.3V372.9L821 372.6V360.5V378.9L821.5 370.3V374.1V358.7V368.3L822 359.8V375.4V364.9L822.5 366.2V355.9V375.3V367.7L823 372V378.5V362.3V373L823.5 365V360.1V377.4V371.7L824 361.2V378V368.3L824.5 363V361.7V378.2V373.9L825 368.6V364.3V377.1V370.6L825.5 362.7V360.6V376.8V368.4L826 374.4V360.7V377.8V366.6L826.5 375.8V356.9V379.7V361.9L827 368.8V359.8V377V371.5L827.5 374.9V355.5V379.7L828 367.6V380.6V361.2L828.5 370.8V379.5V361.1V372.1L829 367.5V361.7V380.2V365.7L829.5 378.9V367.5V379.6V376.5L830 372.4V364.3V373.9L830.5 378.1V360.8V369.6L831 365.8V385.6V361.3V369.6L831.5 369.8V379.1V360.8V371.1L832 374.6V377.8V361.7V366.1L832.5 372.8V362V377.5V368.3L833 368.4V356V374L833.5 369.1V361.8V375.3V366.5L834 353.6V374.1V370" stroke="#000"/>
</g>
<line x1="161.8" y1="391.2" x2="161.8" y2="397.7" stroke="#808080" stroke-width="1.3"/>
<line x1="249.7" y1="391.2" x2="249.7" y2="395" stroke="#808080" stroke-width="1.3"/>
<line x1="249.7" y1="38" x2="249.7" y2="41.2" stroke="#808080" stroke-width="1.3"/>
<line x1="301.1" y1="391.2" x2="301.1" y2="395" stroke="#808080" stroke-width="1.3"/>
<line x1="301.1" y1="38" x2="301.1" y2="41.2" stroke="#808080" stroke-width="1.3"/>
<line x1="337.6" y1="391.2" x2="337.6" y2="395" stroke="#808080" stroke-width="1.3"/>
<line x1="337.6" y1="38" x2="337.6" y2="41.2" stroke="#808080" stroke-width="1.3"/>
<line x1="365.9" y1="391.2" x2="365.9" y2="395" stroke="#808080" stroke-width="1.3"/>
<line x1="365.9" y1="38" x2="365.9" y2="41.2" stroke="#808080" stroke-width="1.3"/>
<line x1="389" y1="391.2" x2="389" y2="395" stroke="#808080" stroke-width="1.3"/>
<line x1="389" y1="38" x2="389" y2="41.2" stroke="#808080" stroke-width="1.3"/>
<line x1="408.6" y1="391.2" x2="408.6" y2="395" stroke="#808080" stroke-width="1.3"/>
<line x1="408.6" y1="38" x2="408.6" y2="41.2" stroke="#808080" stroke-width="1.3"/>
<line x1="425.5" y1="391.2" x2="425.5" y2="395" stroke="#808080" stroke-width="1.3"/>
<line x1="425.5" y1="38" x2="425.5" y2="41.2" stroke="#808080" stroke-width="1.3"/>
<line x1="440.4" y1="391.2" x2="440.4" y2="395" stroke="#808080" stroke-width="1.3"/>
<line x1="440.4" y1="38" x2="440.4" y2="41.2" stroke="#808080" stroke-width="1.3"/>
<line x1="453.8" y1="391.2" x2="453.8" y2="397.7" stroke="#808080" stroke-width="1.3"/>
<line x1="453.8" y1="38" x2="453.8" y2="44" stroke="#808080" stroke-width="1.3"/>
<line x1="541.7" y1="391.2" x2="541.7" y2="395" stroke="#808080" stroke-width="1.3"/>
<line x1="541.7" y1="38" x2="541.7" y2="41.2" stroke="#808080" stroke-width="1.3"/>
<line x1="593.1" y1="391.2" x2="593.1" y2="395" stroke="#808080" stroke-width="1.3"/>
<line x1="593.1" y1="38" x2="593.1" y2="41.2" stroke="#808080" stroke-width="1.3"/>
<line x1="629.6" y1="391.2" x2="629.6" y2="395" stroke="#808080" stroke-width="1.3"/>
<line x1="629.6" y1="38" x2="629.6" y2="41.2" stroke="#808080" stroke-width="1.3"/>
<line x1="657.9" y1="391.2" x2="657.9" y2="395" stroke="#808080" stroke-width="1.3"/>
<line x1="657.9" y1="38" x2="657.9" y2="41.2" stroke="#808080" stroke-width="1.3"/>
<line x1="681" y1="391.2" x2="681" y2="395" stroke="#808080" stroke-width="1.3"/>
<line x1="681" y1="38" x2="681" y2="41.2" stroke="#808080" stroke-width="1.3"/>
<line x1="700.6" y1="391.2" x2="700.6" y2="395" stroke="#808080" stroke-width="1.3"/>
<line x1="700.6" y1="38" x2="700.6" y2="41.2" stroke="#808080" stroke-width="1.3"/>
<line x1="717.5" y1="391.2" x2="717.5" y2="395" stroke="#808080" stroke-width="1.3"/>
<line x1="717.5" y1="38" x2="717.5" y2="41.2" stroke="#808080" stroke-width="1.3"/>
<line x1="732.4" y1="391.2" x2="732.4" y2="395" stroke="#808080" stroke-width="1.3"/>
<line x1="732.4" y1="38" x2="732.4" y2="41.2" stroke="#808080" stroke-width="1.3"/>
<line x1="745.8" y1="391.2" x2="745.8" y2="397.7" stroke="#808080" stroke-width="1.3"/>
<line x1="745.8" y1="38" x2="745.8" y2="44" stroke="#808080" stroke-width="1.3"/>
<line x1="833.7" y1="391.2" x2="833.7" y2="395" stroke="#808080" stroke-width="1.3"/>
<line x1="833.7" y1="38" x2="833.7" y2="41.2" stroke="#808080" stroke-width="1.3"/>
<line x1="154" y1="391.2" x2="161.8" y2="391.2" stroke="#808080" stroke-width="1.3"/>
<line x1="827" y1="391.2" x2="834" y2="391.2" stroke="#808080" stroke-width="1.3"/>
<line x1="157.6" y1="309.2" x2="161.8" y2="309.2" stroke="#808080" stroke-width="1.3"/>
<line x1="830.5" y1="309.2" x2="834" y2="309.2" stroke="#808080" stroke-width="1.3"/>
<line x1="157.6" y1="261.2" x2="161.8" y2="261.2" stroke="#808080" stroke-width="1.3"/>
<line x1="830.5" y1="261.2" x2="834" y2="261.2" stroke="#808080" stroke-width="1.3"/>
<line x1="157.6" y1="227.1" x2="161.8" y2="227.1" stroke="#808080" stroke-width="1.3"/>
<line x1="830.5" y1="227.1" x2="834" y2="227.1" stroke="#808080" stroke-width="1.3"/>
<line x1="157.6" y1="200.7" x2="161.8" y2="200.7" stroke="#808080" stroke-width="1.3"/>
<line x1="830.5" y1="200.7" x2="834" y2="200.7" stroke="#808080" stroke-width="1.3"/>
<line x1="157.6" y1="179.2" x2="161.8" y2="179.2" stroke="#808080" stroke-width="1.3"/>
<line x1="830.5" y1="179.2" x2="834" y2="179.2" stroke="#808080" stroke-width="1.3"/>
<line x1="157.6" y1="160.9" x2="161.8" y2="160.9" stroke="#808080" stroke-width="1.3"/>
<line x1="830.5" y1="160.9" x2="834" y2="160.9" stroke="#808080" stroke-width="1.3"/>
<line x1="157.6" y1="145.1" x2="161.8" y2="145.1" stroke="#808080" stroke-width="1.3"/>
<line x1="830.5" y1="145.1" x2="834" y2="145.1" stroke="#808080" stroke-width="1.3"/>
<line x1="157.6" y1="131.2" x2="161.8" y2="131.2" stroke="#808080" stroke-width="1.3"/>
<line x1="830.5" y1="131.2" x2="834" y2="131.2" stroke="#808080" stroke-width="1.3"/>
<line x1="154" y1="118.7" x2="161.8" y2="118.7" stroke="#808080" stroke-width="1.3"/>
<line x1="827" y1="118.7" x2="834" y2="118.7" stroke="#808080" stroke-width="1.3"/>
<line x1="157.6" y1="38" x2="161.8" y2="38" stroke="#808080" stroke-width="1.3"/>
<line x1="830.5" y1="38" x2="834" y2="38" stroke="#808080" stroke-width="1.3"/>
<path d="M161.8 38.0H834.0V395.0M161.8 38.0V391.2M161.8 391.2H834.0" fill="none" stroke="#929292" stroke-width="2.2" stroke-linecap="square"/>
<text x="143.6" y="129" font-size="29" text-anchor="end">1E-5</text>
<text x="143.9" y="398.9" font-size="29" text-anchor="end">1E-6</text>
<text x="161.3" y="430.6" font-size="29" text-anchor="middle">10k</text>
<text x="453.5" y="430.6" font-size="29" text-anchor="middle">100k</text>
<text x="746.3" y="430.8" font-size="29" text-anchor="middle">1M</text>
<text x="497.2" y="472.8" font-size="29" text-anchor="middle">Frequency (Hz)</text>
<text transform="translate(25.7 215.3) rotate(-90)" font-size="29" text-anchor="middle">Amplitude Spectral Density</text>
<text transform="translate(62.3 217) rotate(-90)" font-size="29" text-anchor="middle">(V*Hz<tspan font-size="20" dy="-12.3">-1/2</tspan><tspan dy="12.3">)</tspan></text>
<text x="1" y="35.6" font-size="42" font-weight="bold">a</text>
<rect x="691.4" y="52.7" width="130.1" height="62.9" fill="#fff" stroke="#8e8e8e" stroke-width="1.7"/>
<line x1="693.2" y1="70.3" x2="740.7" y2="70.3" stroke="#ff7d7d" stroke-width="1.5"/>
<line x1="693.2" y1="97" x2="740.7" y2="97" stroke="#8a8a8a" stroke-width="1.5"/>
<text x="751.5" y="77.8" font-size="24.4">Air</text>
<text x="751" y="106.2" font-size="24.4">Water</text>
<text x="252.5" y="92.1" font-size="29">1st Mode</text>
<line x1="313.2" y1="105.1" x2="289.3" y2="156.4" stroke="#868686" stroke-width="1.3"/>
<polygon points="286.6,162.3 288.0,153.6 292.4,155.6" fill="#1a1a1a"/>
<line x1="313.2" y1="105.1" x2="396.7" y2="136.7" stroke="#868686" stroke-width="1.3"/>
<polygon points="402.8,139.0 394.0,138.2 395.7,133.7" fill="#1a1a1a"/>
<text x="465" y="200.2" font-size="29">2nd Mode</text>
<line x1="533.5" y1="212.6" x2="532" y2="282.3" stroke="#868686" stroke-width="1.3"/>
<polygon points="531.9,288.8 529.7,280.3 534.5,280.4" fill="#1a1a1a"/>
<line x1="533.5" y1="212.6" x2="639" y2="245.7" stroke="#868686" stroke-width="1.3"/>
<polygon points="645.2,247.6 636.4,247.3 637.8,242.8" fill="#1a1a1a"/>
<text x="686.5" y="208.2" font-size="29">3rd Mode</text>
<line x1="746.1" y1="220.5" x2="683.1" y2="312.5" stroke="#868686" stroke-width="1.3"/>
<polygon points="679.4,317.9 682.2,309.5 686.2,312.2" fill="#1a1a1a"/>
<line x1="746.1" y1="220.5" x2="777.6" y2="291.1" stroke="#868686" stroke-width="1.3"/>
<polygon points="780.2,297.0 774.5,290.2 778.9,288.3" fill="#1a1a1a"/>
<clipPath id="cb"><rect x="163" y="553.5" width="675.3" height="344.5"/></clipPath>
<g clip-path="url(#cb)" fill="none" stroke-linecap="round" stroke-linejoin="round">
<path d="M189.7 804.8L190.4 804.7L191.1 804.6L191.8 804.5L192.5 804.4L193.2 804.3L193.9 804.1L194.6 804L195.3 803.8L196 803.7L196.7 803.5L197.4 803.3L198.1 803.2L198.8 803L199.5 802.8L200.2 802.6L200.9 802.4L201.6 802.2L202.3 802L203 801.7L203.7 801.5L204.4 801.3L205.1 801.1L205.8 800.8L206.5 800.6L207.2 800.3L207.9 800.1L208.6 799.9L209.3 799.6L210 799.3L210.7 799.1L211.4 798.8L212.1 798.5L212.8 798.2L213.5 797.9L214.2 797.6L214.9 797.2L215.6 796.9L216.3 796.6L217 796.2L217.7 795.8L218.4 795.5L219.1 795.1L219.8 794.7L220.5 794.3L221.2 793.9L221.9 793.4L222.6 793L223.3 792.6L224 792.1L224.7 791.7L225.4 791.2L226.1 790.8L226.8 790.3L227.5 789.8L228.2 789.3L228.9 788.8L229.6 788.3L230.3 787.8L231 787.3L231.7 786.7L232.4 786.2L233.1 785.6L233.8 785L234.5 784.4L235.2 783.8L235.9 783.1L236.6 782.5L237.3 781.8L238 781.1L238.7 780.4L239.4 779.6L240.1 778.9L240.8 778.1L241.5 777.4L242.2 776.6L242.9 775.8L243.6 774.9L244.3 774.1L245 773.2L245.7 772.4L246.4 771.5L247.1 770.6L247.8 769.6L248.5 768.6L249.2 767.6L249.9 766.6L250.6 765.5L251.3 764.4L252 763.2L252.7 762L253.4 760.8L254.1 759.6L254.8 758.3L255.5 756.9L256.2 755.6L256.9 754.2L257.6 752.7L258.3 751.2L259 749.6L259.7 748L260.4 746.3L261.1 744.5L261.8 742.6L262.5 740.7L263.2 738.8L263.9 736.8L264.6 734.7L265.3 732.5L266 730.2L266.7 727.8L267.4 725.2L268.1 722.6L268.8 719.9L269.5 717.2L270.2 714.5L270.9 711.7L271.6 708.9L272.3 705.9L273 702.8L273.7 699.7L274.4 696.5L275.1 693.3L275.8 690.2L276.5 687.1L277.2 684.1L277.9 681.3L278.6 678.4L279.3 675.5L280 672.6L280.7 669.9L281.4 667.3L282.1 664.9L282.8 662.7L283.5 660.6L284.2 658.5L284.9 656.7L285.6 655.1L286.3 654L287 653.1L287.7 652.4L288.4 651.8L289.1 651.5L289.8 651.6L290.5 652.1L291.2 652.9L291.9 653.9L292.6 655.2L293.3 657.3L294 659.8L294.7 662.6L295.4 665.6L296.1 669.2L296.8 673.2L297.5 677.4L298.2 681.7L298.9 686L299.6 690.7L300.3 695.6L301 700.7L301.7 705.7L302.4 710.7L303.1 715.6L303.8 720.2L304.5 724.8L305.2 729.2L305.9 733.6L306.6 737.9L307.3 742.1L308 746.1L308.7 750L309.4 753.8L310.1 757.4L310.8 761L311.5 764.5L312.2 768L312.9 771.3L313.6 774.5L314.3 777.5L315 780.5L315.7 783.3L316.4 786L317.1 788.6L317.8 791.1L318.5 793.6L319.2 795.9L319.9 798.3L320.6 800.5L321.3 802.7L322 804.8L322.7 806.9L323.4 809L324.1 811L324.8 813.1L325.5 815.1L326.2 817.1L326.9 819L327.6 820.9L328.3 822.8L329 824.5L329.7 826.3L330.4 827.9L331.1 829.5L331.8 830.9L332.5 832.3L333.2 833.6L333.9 834.9L334.6 836.2L335.3 837.4L336 838.6L336.7 839.8L337.4 841L338.1 842.1L338.8 843.2L339.5 844.3L340.2 845.3L340.9 846.3L341.6 847.3L342.3 848.2L343 849L343.7 849.8L344.4 850.6L345.1 851.3L345.8 851.9L346.5 852.5" stroke="#111" stroke-width="2.9"/>
<path d="M488.1 886L488.8 885.9L489.5 885.9L490.2 885.8L490.9 885.7L491.6 885.6L492.3 885.5L493 885.3L493.7 885.2L494.4 885.1L495.1 884.9L495.8 884.8L496.5 884.6L497.2 884.5L497.9 884.3L498.6 884.1L499.3 883.9L500 883.8L500.7 883.6L501.4 883.4L502.1 883.2L502.8 883L503.5 882.8L504.2 882.6L504.9 882.4L505.6 882.2L506.3 881.9L507 881.7L507.7 881.5L508.4 881.2L509.1 881L509.8 880.7L510.5 880.4L511.2 880.1L511.9 879.8L512.6 879.5L513.3 879.1L514 878.8L514.7 878.4L515.4 878L516.1 877.6L516.8 877.2L517.5 876.8L518.2 876.3L518.9 875.8L519.6 875.3L520.3 874.7L521 874L521.7 873.3L522.4 872.5L523.1 871.7L523.8 870.9L524.5 870L525.2 869.1L525.9 868.2L526.6 867.2L527.3 866.3L528 865.2L528.7 864L529.4 862.8L530.1 861.5L530.8 860.2L531.5 859L532.2 857.7L532.9 856.6L533.6 855.4L534.3 854.2L535 853.3L535.7 852.7L536.4 852.2L537.1 852L537.8 852.3L538.5 852.9L539.2 853.7L539.9 855.1L540.6 856.6L541.3 858.3L542 860.3L542.7 862.4L543.4 864.5L544.1 866.6L544.8 868.3L545.5 869.8L546.2 871.1L546.9 872.4L547.6 873.6L548.3 874.7L549 875.8L549.7 876.8L550.4 877.7L551.1 878.6L551.8 879.4L552.5 880.1L553.2 880.8L553.9 881.4L554.6 882L555.3 882.6L556 883.1L556.7 883.7L557.4 884.2L558.1 884.6L558.8 885.1L559.5 885.5L560.2 885.9L560.9 886.3L561.6 886.6L562.3 887L563 887.3L563.7 887.6L564.4 887.8L565.1 888.1L565.8 888.4L566.5 888.6L567.2 888.9L567.9 889.1L568.6 889.3L569.3 889.5L570 889.6L570.7 889.8L571.4 889.9" stroke="#111" stroke-width="3.2"/>
<path d="M646.8 894L647.5 894L648.2 894L648.9 893.9L649.6 893.9L650.3 893.8L651 893.7L651.7 893.6L652.4 893.5L653.1 893.4L653.8 893.2L654.5 893.1L655.2 893L655.9 892.8L656.6 892.7L657.3 892.5L658 892.3L658.7 892L659.4 891.7L660.1 891.4L660.8 891.1L661.5 890.8L662.2 890.4L662.9 890.1L663.6 889.6L664.3 889.1L665 888.5L665.7 887.8L666.4 887.2L667.1 886.6L667.8 886.1L668.5 885.7L669.2 885.3L669.9 884.9L670.6 884.6L671.3 884.4L672 884.4L672.7 884.6L673.4 885L674.1 885.4L674.8 885.9L675.5 886.3L676.2 886.9L676.9 887.5L677.6 888.2L678.3 888.8L679 889.3L679.7 889.7L680.4 890.2L681.1 890.6L681.8 890.9L682.5 891.2L683.2 891.5L683.9 891.6L684.6 891.8L685.3 891.9L686 892.1L686.7 892.2L687.4 892.3L688.1 892.5L688.8 892.7L689.5 893L690.2 893.2L690.9 893.5L691.6 893.7L692.3 894L693 894.3L693.7 894.7" stroke="#111" stroke-width="3.1"/>
<path d="M738.9 895L739.6 895L740.3 895L741 894.9L741.7 894.8L742.4 894.8L743.1 894.7L743.8 894.6L744.5 894.5L745.2 894.3L745.9 894.2L746.6 894.1L747.3 893.9L748 893.7L748.7 893.4L749.4 893.1L750.1 892.9L750.8 892.6L751.5 892.4L752.2 892.1L752.9 891.9L753.6 891.7L754.3 891.5L755 891.3L755.7 891.2L756.4 891.2L757.1 891.3L757.8 891.6L758.5 891.8L759.2 892.1L759.9 892.4L760.6 892.6L761.3 892.8L762 893.1L762.7 893.3L763.4 893.5L764.1 893.7L764.8 893.9L765.5 894.1L766.2 894.2L766.9 894.4L767.6 894.5L768.3 894.6L769 894.7L769.7 894.8L770.4 894.9L771.1 894.9L771.8 895L772.5 895" stroke="#111" stroke-width="2.8"/>
<path d="M421.6 573.1h0M421.5 607.2h0M421.3 634.8h0M421.1 657.6h0M420.9 676.8h0M420.7 693.1h0M420.5 707.2h0M420.3 719.4h0M420.1 730.2h0M419.9 739.7h0M419.6 748.2h0M419.4 755.8h0M419.2 762.7h0M419 769h0M418.8 774.7h0M418.6 779.9h0M418.4 784.7h0M418.2 789.1h0M418 793.1h0M417.8 796.9h0M417.6 800.4h0M417.4 803.7h0M417.2 806.8h0M417 809.6h0M416.7 812.3h0M416.5 814.8h0M416.3 817.2h0M416.1 819.5h0M415.9 821.6h0M415.7 823.6h0M415.5 825.5h0M415.2 827.3h0M415 829h0M414.8 830.7h0M414.6 832.2h0M414.4 833.7h0M414.1 835.2h0M413.9 836.5h0M413.7 837.8h0M413.5 839.1h0M413.2 840.3h0M413 841.4h0M412.8 842.5h0M412.6 843.6h0M412.3 844.6h0M412.1 845.6h0M411.9 846.5h0M411.7 847.4h0M411.4 848.3h0M411.2 849.1h0M411 850h0M410.7 850.7h0M410.5 851.5h0M410.3 852.2h0M410 853h0M409.8 853.7h0M409.5 854.3h0M409.3 855h0M409.1 855.6h0M408.8 856.2h0M408.6 856.8h0M408.3 857.4h0M408.1 858h0M407.9 858.5h0M407.6 859h0M407.4 859.6h0M407.1 860.1h0M406.9 860.5h0M406.6 861h0M406.4 861.5h0M406.1 861.9h0M405.9 862.4h0M405.6 862.8h0M405.4 863.2h0M405.1 863.6h0M404.9 864h0M404.6 864.4h0M404.3 864.8h0M404.1 865.2h0M403.8 865.5h0M403.6 865.9h0M403.3 866.3h0M403 866.6h0M402.8 866.9h0M402.5 867.2h0M402.2 867.6h0M402 867.9h0M401.7 868.2h0M401.4 868.5h0M401.2 868.8h0M400.9 869.1h0M400.6 869.3h0M400.3 869.6h0M400.1 869.9h0M399.8 870.2h0M399.5 870.4h0M399.2 870.7h0M399 870.9h0M398.7 871.2h0M398.4 871.4h0M398.1 871.6h0M397.8 871.9h0M397.5 872.1h0M397.2 872.3h0M397 872.5h0M396.7 872.8h0M396.4 873h0M396.1 873.2h0M424.9 578.2h0M425.1 612.2h0M425.3 639.7h0M425.5 662.3h0M425.7 681.2h0M425.9 697.4h0M426 711.3h0M426.2 723.3h0M426.4 733.9h0M426.6 743.3h0M426.8 751.7h0M427 759.2h0M427.2 765.9h0M427.3 772.1h0M427.5 777.7h0M427.7 782.8h0M427.9 787.4h0M428.1 791.8h0M428.2 795.8h0M428.4 799.5h0M428.6 803h0M428.8 806.3h0M429 809.4h0M429.1 812.3h0M429.3 814.9h0M429.5 817.5h0M429.7 819.9h0M429.8 822.1h0M430 824.2h0M430.2 826.3h0M430.4 828.2h0M430.5 830h0M430.7 831.7h0M430.9 833.3h0M431.1 834.9h0M431.2 836.4h0M431.4 837.8h0M431.6 839.2h0M431.7 840.5h0M431.9 841.7h0M432.1 842.9h0M432.3 844h0M432.4 845.1h0M432.6 846.2h0M432.8 847.2h0M432.9 848.2h0M433.1 849.1h0M433.3 850h0M433.4 850.9h0M433.6 851.8h0M433.8 852.6h0M433.9 853.4h0M434.1 854.1h0M434.3 854.9h0M434.4 855.6h0M434.6 856.3h0M434.7 856.9h0M434.9 857.6h0M435.1 858.2h0M435.2 858.8h0M435.4 859.4h0M435.6 860h0M435.7 860.5h0M435.9 861.1h0M436 861.6h0M436.2 862.1h0M436.4 862.6h0M436.5 863.1h0M436.7 863.6h0M436.8 864.1h0M437 864.5h0M437.1 864.9h0M437.3 865.4h0M437.5 865.8h0M437.6 866.2h0M437.8 866.6h0M437.9 867h0M438.1 867.4h0M438.2 867.7h0M438.4 868.1h0M438.5 868.4h0M438.7 868.8h0M438.8 869.1h0M439 869.5h0M439.1 869.8h0M439.3 870.1h0M439.4 870.4h0M439.6 870.7h0M439.8 871h0M439.9 871.3h0M440.1 871.6h0M440.2 871.9h0M440.3 872.1h0M440.5 872.4h0M440.6 872.7h0M440.8 872.9h0M440.9 873.2h0M441.1 873.4h0M441.2 873.7h0M441.4 873.9h0M441.5 874.1h0M441.7 874.4h0M441.8 874.6h0M442 874.8h0M442.1 875h0M442.3 875.2h0M442.4 875.4h0M442.5 875.7h0M442.7 875.9h0M442.8 876.1h0M443 876.2h0M443.1 876.4h0M443.3 876.6h0M443.4 876.8h0M443.5 877h0M443.7 877.2h0M443.8 877.4h0M444 877.5h0M444.1 877.7h0M444.3 877.9h0M444.4 878h0M444.5 878.2h0M444.7 878.4h0M444.8 878.5h0M444.9 878.7h0" stroke="#ff0000" stroke-width="3.6" stroke-linecap="square"/>
<path d="M656.0 738.3V741.0M656.0 745.2V749.8M656.0 761.2V766.8M656.0 779.2V785.0M656.0 796.6V801.2M656.0 809.0V813.8M656.0 819.6V824.2M656.0 829.2V833.0M656.0 837.0V840.6" stroke="#ff0000" stroke-width="3.1" stroke-linecap="butt"/>
<path d="M656.0 843V892" stroke="#ff0000" stroke-width="4.7" stroke-linecap="butt"/>
<path d="M654.6 880C654.3 888 652.6 893.4 646.8 895.3M657.4 880C657.7 888 659.4 893.4 665.2 895.3" stroke="#ff0000" stroke-width="3" stroke-linecap="round"/>
<path d="M782.9 880.6V893" stroke="#ff0000" stroke-width="4.2" stroke-linecap="butt"/>
<path d="M775.2 897.2C779.6 896.6 780.7 894.6 780.9 890.5H784.9C785.1 894.6 786.2 896.6 790.6 897.2Z" fill="#ff0000" stroke="#ff0000" stroke-width="1.2"/>
</g>
<circle cx="688.2" cy="306.7" r="1.0" fill="#e33"/><circle cx="685.5" cy="866" r="1.0" fill="#e33"/>
<line x1="163" y1="897" x2="163" y2="903.8" stroke="#808080" stroke-width="1.3"/>
<line x1="251.3" y1="897" x2="251.3" y2="900.8" stroke="#808080" stroke-width="1.3"/>
<line x1="251.3" y1="552.8" x2="251.3" y2="556" stroke="#808080" stroke-width="1.3"/>
<line x1="302.9" y1="897" x2="302.9" y2="900.8" stroke="#808080" stroke-width="1.3"/>
<line x1="302.9" y1="552.8" x2="302.9" y2="556" stroke="#808080" stroke-width="1.3"/>
<line x1="339.5" y1="897" x2="339.5" y2="900.8" stroke="#808080" stroke-width="1.3"/>
<line x1="339.5" y1="552.8" x2="339.5" y2="556" stroke="#808080" stroke-width="1.3"/>
<line x1="367.9" y1="897" x2="367.9" y2="900.8" stroke="#808080" stroke-width="1.3"/>
<line x1="367.9" y1="552.8" x2="367.9" y2="556" stroke="#808080" stroke-width="1.3"/>
<line x1="391.2" y1="897" x2="391.2" y2="900.8" stroke="#808080" stroke-width="1.3"/>
<line x1="391.2" y1="552.8" x2="391.2" y2="556" stroke="#808080" stroke-width="1.3"/>
<line x1="410.8" y1="897" x2="410.8" y2="900.8" stroke="#808080" stroke-width="1.3"/>
<line x1="410.8" y1="552.8" x2="410.8" y2="556" stroke="#808080" stroke-width="1.3"/>
<line x1="427.8" y1="897" x2="427.8" y2="900.8" stroke="#808080" stroke-width="1.3"/>
<line x1="427.8" y1="552.8" x2="427.8" y2="556" stroke="#808080" stroke-width="1.3"/>
<line x1="442.8" y1="897" x2="442.8" y2="900.8" stroke="#808080" stroke-width="1.3"/>
<line x1="442.8" y1="552.8" x2="442.8" y2="556" stroke="#808080" stroke-width="1.3"/>
<line x1="456.2" y1="897" x2="456.2" y2="903.8" stroke="#808080" stroke-width="1.3"/>
<line x1="456.2" y1="552.8" x2="456.2" y2="558.8" stroke="#808080" stroke-width="1.3"/>
<line x1="544.5" y1="897" x2="544.5" y2="900.8" stroke="#808080" stroke-width="1.3"/>
<line x1="544.5" y1="552.8" x2="544.5" y2="556" stroke="#808080" stroke-width="1.3"/>
<line x1="596.1" y1="897" x2="596.1" y2="900.8" stroke="#808080" stroke-width="1.3"/>
<line x1="596.1" y1="552.8" x2="596.1" y2="556" stroke="#808080" stroke-width="1.3"/>
<line x1="632.7" y1="897" x2="632.7" y2="900.8" stroke="#808080" stroke-width="1.3"/>
<line x1="632.7" y1="552.8" x2="632.7" y2="556" stroke="#808080" stroke-width="1.3"/>
<line x1="661.1" y1="897" x2="661.1" y2="900.8" stroke="#808080" stroke-width="1.3"/>
<line x1="661.1" y1="552.8" x2="661.1" y2="556" stroke="#808080" stroke-width="1.3"/>
<line x1="684.4" y1="897" x2="684.4" y2="900.8" stroke="#808080" stroke-width="1.3"/>
<line x1="684.4" y1="552.8" x2="684.4" y2="556" stroke="#808080" stroke-width="1.3"/>
<line x1="704" y1="897" x2="704" y2="900.8" stroke="#808080" stroke-width="1.3"/>
<line x1="704" y1="552.8" x2="704" y2="556" stroke="#808080" stroke-width="1.3"/>
<line x1="721" y1="897" x2="721" y2="900.8" stroke="#808080" stroke-width="1.3"/>
<line x1="721" y1="552.8" x2="721" y2="556" stroke="#808080" stroke-width="1.3"/>
<line x1="736" y1="897" x2="736" y2="900.8" stroke="#808080" stroke-width="1.3"/>
<line x1="736" y1="552.8" x2="736" y2="556" stroke="#808080" stroke-width="1.3"/>
<line x1="749.4" y1="897" x2="749.4" y2="903.8" stroke="#808080" stroke-width="1.3"/>
<line x1="749.4" y1="552.8" x2="749.4" y2="558.8" stroke="#808080" stroke-width="1.3"/>
<line x1="837.7" y1="897" x2="837.7" y2="900.8" stroke="#808080" stroke-width="1.3"/>
<line x1="837.7" y1="552.8" x2="837.7" y2="556" stroke="#808080" stroke-width="1.3"/>
<line x1="153.8" y1="897" x2="163" y2="897" stroke="#808080" stroke-width="1.3"/>
<line x1="157.8" y1="868.3" x2="163" y2="868.3" stroke="#808080" stroke-width="1.3"/>
<line x1="153.8" y1="839.6" x2="163" y2="839.6" stroke="#808080" stroke-width="1.3"/>
<line x1="157.8" y1="810.9" x2="163" y2="810.9" stroke="#808080" stroke-width="1.3"/>
<line x1="153.8" y1="782.2" x2="163" y2="782.2" stroke="#808080" stroke-width="1.3"/>
<line x1="157.8" y1="753.5" x2="163" y2="753.5" stroke="#808080" stroke-width="1.3"/>
<line x1="153.8" y1="724.8" x2="163" y2="724.8" stroke="#808080" stroke-width="1.3"/>
<line x1="157.8" y1="696.1" x2="163" y2="696.1" stroke="#808080" stroke-width="1.3"/>
<line x1="153.8" y1="667.4" x2="163" y2="667.4" stroke="#808080" stroke-width="1.3"/>
<line x1="157.8" y1="638.7" x2="163" y2="638.7" stroke="#808080" stroke-width="1.3"/>
<line x1="153.8" y1="610" x2="163" y2="610" stroke="#808080" stroke-width="1.3"/>
<line x1="157.8" y1="581.3" x2="163" y2="581.3" stroke="#808080" stroke-width="1.3"/>
<line x1="153.8" y1="552.6" x2="163" y2="552.6" stroke="#808080" stroke-width="1.3"/>
<line x1="831.3" y1="897" x2="838.3" y2="897" stroke="#808080" stroke-width="1.3"/>
<line x1="835.1" y1="854" x2="838.3" y2="854" stroke="#808080" stroke-width="1.3"/>
<line x1="831.3" y1="811" x2="838.3" y2="811" stroke="#808080" stroke-width="1.3"/>
<line x1="835.1" y1="768" x2="838.3" y2="768" stroke="#808080" stroke-width="1.3"/>
<line x1="831.3" y1="725" x2="838.3" y2="725" stroke="#808080" stroke-width="1.3"/>
<line x1="835.1" y1="682" x2="838.3" y2="682" stroke="#808080" stroke-width="1.3"/>
<line x1="831.3" y1="639" x2="838.3" y2="639" stroke="#808080" stroke-width="1.3"/>
<line x1="835.1" y1="596" x2="838.3" y2="596" stroke="#808080" stroke-width="1.3"/>
<line x1="831.3" y1="553" x2="838.3" y2="553" stroke="#808080" stroke-width="1.3"/>
<path d="M163.0 552.8H838.3V898.0M163.0 552.8V897.0M163.0 897.0H838.3" fill="none" stroke="#929292" stroke-width="2.2" stroke-linecap="square"/>
<text x="142.6" y="904.5" font-size="29" text-anchor="end">0.0</text>
<text x="142.6" y="847.4" font-size="29" text-anchor="end">0.5</text>
<text x="142.6" y="790.4" font-size="29" text-anchor="end">1.0</text>
<text x="142.6" y="733.3" font-size="29" text-anchor="end">1.5</text>
<text x="142.6" y="676.2" font-size="29" text-anchor="end">2.0</text>
<text x="142.6" y="619.1" font-size="29" text-anchor="end">2.5</text>
<text x="142.6" y="562.1" font-size="29" text-anchor="end">3.0</text>
<text x="850.2" y="905.6" font-size="29">0</text>
<text x="850.2" y="819.6" font-size="29">5</text>
<text x="850.2" y="733.6" font-size="29">10</text>
<text x="850.2" y="647.6" font-size="29">15</text>
<text x="850.2" y="561.6" font-size="29">20</text>
<text x="163.2" y="937.5" font-size="29" text-anchor="middle">10k</text>
<text x="457.1" y="937.5" font-size="29" text-anchor="middle">100k</text>
<text x="752.8" y="937.5" font-size="29" text-anchor="middle">1M</text>
<text x="500" y="976.8" font-size="29" text-anchor="middle">Frequency (Hz)</text>
<text transform="translate(25.7 721.2) rotate(-90)" font-size="29" text-anchor="middle" letter-spacing="0.33">Amplitude in water</text>
<text transform="translate(63 727.3) rotate(-90)" font-size="29" text-anchor="middle" letter-spacing="1.5">(nm)</text>
<text transform="translate(900.6 723.6) rotate(90)" font-size="29" text-anchor="middle">Amplitude in air (nm)</text>
<text x="1.2" y="543.6" font-size="42" font-weight="bold">b</text>
<rect x="694.7" y="568.5" width="124.4" height="58.2" fill="#fff" stroke="#8e8e8e" stroke-width="1.7"/>
<line x1="697.3" y1="584.7" x2="742.2" y2="584.7" stroke="#ff9a9a" stroke-width="1.6"/>
<line x1="697.3" y1="610.3" x2="742.2" y2="610.3" stroke="#9a9a9a" stroke-width="1.6"/>
<text x="753.2" y="591.4" font-size="24.4">Air</text>
<text x="752.8" y="618.9" font-size="24.4">Water</text>
<text x="263.8" y="583.9" font-size="29">1st Mode</text>
<line x1="316.7" y1="588.8" x2="293.5" y2="638.9" stroke="#868686" stroke-width="1.3"/>
<polygon points="290.8,644.8 292.2,636.1 296.5,638.1" fill="#1a1a1a"/>
<line x1="316.7" y1="588.8" x2="400.2" y2="620" stroke="#868686" stroke-width="1.3"/>
<polygon points="406.3,622.3 397.5,621.6 399.2,617.1" fill="#1a1a1a"/>
<text x="480.8" y="756.7" font-size="29">2nd Mode</text>
<line x1="538" y1="765.4" x2="536.1" y2="836.2" stroke="#868686" stroke-width="1.3"/>
<polygon points="535.9,842.7 533.7,834.1 538.5,834.3" fill="#1a1a1a"/>
<line x1="538" y1="765.4" x2="642.6" y2="798" stroke="#868686" stroke-width="1.3"/>
<polygon points="648.8,799.9 640.0,799.7 641.4,795.1" fill="#1a1a1a"/>
<text x="699.4" y="770.6" font-size="29">3rd Mode</text>
<line x1="743.2" y1="780.1" x2="681" y2="871.5" stroke="#868686" stroke-width="1.3"/>
<polygon points="677.3,876.9 680.1,868.5 684.1,871.2" fill="#1a1a1a"/>
<line x1="743.2" y1="780.1" x2="775" y2="849.8" stroke="#868686" stroke-width="1.3"/>
<polygon points="777.7,855.7 772.0,849.0 776.4,847.0" fill="#1a1a1a"/>
</svg></body></html>
